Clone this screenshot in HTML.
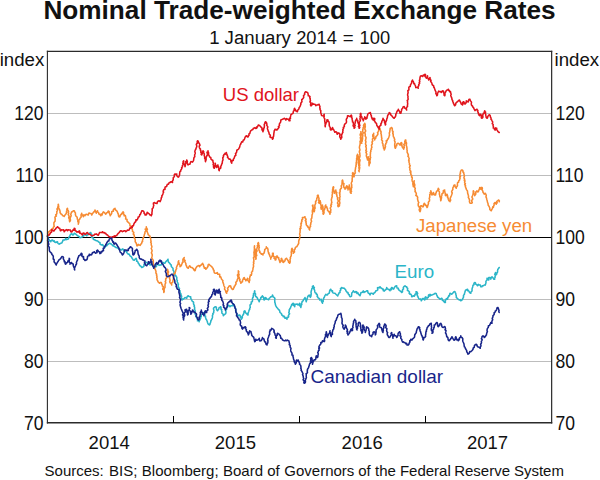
<!DOCTYPE html>
<html><head><meta charset="utf-8">
<style>
html,body{margin:0;padding:0;background:#fff;}
body{width:600px;height:480px;overflow:hidden;position:relative;font-family:"Liberation Sans",sans-serif;color:#111;}
svg{position:absolute;left:0;top:0;}
text{font-family:"Liberation Sans",sans-serif;fill:#111;}
</style></head><body>
<svg width="600" height="480" viewBox="0 0 600 480">
<rect width="600" height="480" fill="#fff"/>
<!-- gridlines -->
<g stroke="#bdbdbd" stroke-width="1" shape-rendering="crispEdges">
<line x1="47" x2="552" y1="113.5" y2="113.5"/>
<line x1="47" x2="552" y1="175.5" y2="175.5"/>
<line x1="47" x2="552" y1="299.5" y2="299.5"/>
<line x1="47" x2="552" y1="361.5" y2="361.5"/>
</g>
<line x1="47" x2="552" y1="237.5" y2="237.5" stroke="#000" stroke-width="1" shape-rendering="crispEdges"/>
<!-- series placeholder -->
<g id="series" fill="none" stroke-width="1.55" stroke-linejoin="round" stroke-linecap="round">
<path id="eur" stroke="#2bb5c8" d="M47.5 236.7 L47.9 237.4 L48.2 238.6 L49.2 239.7 L49.2 240.8 L49.8 240.6 L50.8 241.7 L51.4 240.2 L52.5 240.0 L53.4 241.4 L54.2 240.8 L55.0 242.3 L55.8 242.5 L56.5 242.0 L57.5 241.7 L57.7 243.0 L58.4 243.6 L59.2 244.2 L59.8 243.7 L60.8 243.3 L61.7 243.1 L62.5 241.7 L63.0 240.1 L64.2 240.0 L65.0 239.9 L65.8 238.3 L66.5 239.6 L67.5 239.2 L68.4 239.0 L68.9 237.5 L69.2 236.7 L70.1 236.0 L69.9 235.4 L70.8 234.2 L71.8 233.6 L72.5 235.0 L73.3 235.0 L74.2 233.3 L75.1 233.8 L75.8 234.2 L76.7 234.9 L77.5 235.8 L78.3 236.0 L79.2 236.7 L79.8 237.7 L80.8 237.5 L82.0 237.3 L82.5 235.8 L83.7 236.1 L84.2 234.2 L85.2 234.6 L85.8 235.0 L86.9 235.8 L87.5 234.2 L88.4 234.6 L89.2 233.3 L89.9 233.0 L90.8 232.5 L91.0 233.9 L91.9 234.4 L91.7 235.8 L91.6 237.4 L92.2 237.1 L93.2 238.1 L93.3 239.2 L94.0 239.5 L95.0 240.0 L96.1 240.7 L96.7 240.8 L97.7 241.0 L98.3 241.7 L99.2 242.4 L100.0 242.5 L100.1 244.3 L100.7 244.5 L101.7 245.0 L102.7 244.6 L103.3 245.8 L104.5 246.5 L105.0 247.5 L105.8 246.0 L106.7 245.8 L107.2 245.0 L108.3 244.2 L109.3 243.2 L110.0 243.3 L110.6 243.8 L111.7 244.2 L112.6 245.7 L113.3 245.8 L114.1 246.2 L115.0 246.7 L115.8 247.5 L116.7 247.5 L117.4 248.1 L118.3 248.3 L119.1 249.6 L120.0 249.2 L120.7 249.7 L121.7 250.0 L122.4 248.9 L123.3 249.2 L124.1 251.0 L125.0 250.8 L126.2 251.4 L126.7 252.5 L127.4 253.2 L128.3 254.2 L129.1 254.1 L130.0 255.8 L131.2 256.6 L131.7 257.5 L132.3 258.5 L132.9 259.4 L133.3 260.0 L134.3 260.3 L135.0 259.2 L136.1 258.2 L136.7 260.0 L136.6 261.3 L137.5 261.3 L138.1 262.5 L138.3 263.3 L139.0 263.8 L139.3 264.8 L140.0 265.8 L140.9 266.2 L141.7 267.5 L142.3 267.2 L143.3 266.7 L144.0 266.1 L143.9 264.6 L144.3 264.5 L145.0 263.3 L145.8 262.2 L146.7 262.5 L147.8 263.4 L148.3 264.2 L149.2 264.1 L150.0 265.0 L150.8 264.8 L151.7 263.3 L152.4 264.5 L152.4 264.8 L152.9 266.4 L153.3 266.7 L154.3 266.2 L155.0 267.5 L155.3 266.5 L156.4 266.6 L156.7 265.0 L157.4 263.7 L158.3 264.2 L159.1 265.4 L160.0 265.0 L160.8 265.1 L161.7 264.2 L162.3 262.5 L163.3 262.5 L164.3 263.3 L165.0 263.3 L165.5 262.1 L166.1 261.4 L166.7 260.8 L167.1 260.6 L168.0 259.2 L168.0 259.8 L168.4 261.9 L168.8 262.4 L169.7 263.3 L170.7 264.8 L171.3 265.0 L171.3 266.4 L172.0 267.2 L172.5 267.7 L173.1 268.6 L173.0 270.0 L173.6 270.9 L174.1 271.9 L173.8 273.1 L174.0 274.0 L174.7 274.2 L175.2 275.8 L175.5 275.2 L176.3 276.7 L176.8 277.3 L176.8 278.7 L176.6 279.6 L177.4 280.5 L177.1 281.3 L177.5 282.4 L178.0 283.3 L178.5 284.1 L178.1 285.4 L178.3 286.1 L178.5 287.6 L179.5 288.3 L179.2 289.2 L179.1 290.4 L180.0 290.7 L180.0 291.9 L180.3 293.0 L181.1 294.1 L180.8 295.0 L181.4 295.6 L181.7 296.6 L181.1 298.4 L181.8 298.7 L182.0 300.0 L182.5 299.1 L183.3 299.2 L184.3 298.2 L185.0 297.5 L185.9 297.9 L186.7 298.3 L187.1 296.8 L187.8 296.0 L188.3 295.8 L189.2 296.6 L190.0 296.7 L190.7 296.7 L190.7 298.2 L191.4 299.5 L191.7 300.0 L192.4 301.5 L193.3 301.7 L193.6 302.6 L193.5 303.6 L193.7 304.5 L194.4 305.4 L194.1 306.5 L194.6 307.1 L194.7 308.3 L194.4 309.3 L195.2 310.4 L194.9 311.4 L195.4 312.0 L195.1 312.9 L195.2 314.2 L195.8 315.0 L195.9 316.3 L196.3 317.2 L196.6 317.6 L197.3 318.3 L197.7 319.9 L197.5 320.8 L198.6 320.0 L199.2 321.7 L199.2 321.0 L200.2 319.3 L200.5 318.4 L200.8 318.0 L200.8 316.7 L201.3 316.5 L201.2 315.2 L202.1 314.5 L202.5 313.3 L203.2 312.9 L204.2 312.5 L204.0 313.8 L204.9 314.0 L204.7 315.6 L205.6 316.1 L205.4 317.2 L205.8 318.3 L206.2 319.4 L206.6 319.8 L206.9 320.6 L207.2 321.2 L207.5 322.5 L208.1 324.1 L208.9 324.4 L209.2 325.0 L209.9 324.6 L210.0 323.6 L210.5 322.6 L210.8 321.7 L210.8 321.0 L211.7 319.4 L211.8 319.1 L212.4 317.7 L212.5 316.7 L212.4 315.4 L213.0 314.5 L212.8 313.5 L213.7 312.8 L213.7 311.5 L214.0 310.6 L213.6 309.5 L213.5 308.3 L214.2 307.5 L214.9 306.9 L215.8 306.7 L216.4 307.3 L216.4 308.6 L216.6 309.5 L217.5 310.8 L218.0 310.0 L218.7 309.3 L218.8 308.8 L219.2 307.5 L220.1 307.3 L220.8 306.7 L221.1 307.9 L220.8 309.0 L221.8 309.6 L221.5 310.6 L222.0 311.7 L221.8 313.0 L222.9 314.0 L223.2 314.4 L223.3 315.8 L224.3 314.5 L225.0 314.2 L225.7 313.7 L226.0 312.1 L225.8 311.1 L225.7 310.3 L226.8 309.0 L226.7 308.3 L227.0 307.1 L227.7 306.8 L227.7 305.1 L228.3 305.0 L229.2 305.7 L230.0 306.7 L230.9 305.8 L231.7 305.8 L232.4 305.8 L233.3 304.2 L234.1 304.9 L234.0 305.6 L234.2 306.3 L235.0 307.5 L235.7 308.7 L235.7 309.8 L235.6 310.7 L235.9 311.2 L236.1 312.6 L236.7 313.3 L237.0 313.9 L237.6 315.9 L238.3 315.8 L238.8 315.1 L239.7 315.0 L240.3 316.0 L240.3 317.4 L241.2 318.1 L241.3 319.2 L241.8 318.6 L242.4 317.3 L241.9 316.7 L242.3 316.2 L243.0 315.0 L243.6 314.0 L243.7 313.5 L244.0 312.6 L244.0 311.3 L244.7 310.8 L245.0 311.0 L245.7 312.9 L246.3 313.3 L247.3 314.5 L248.0 315.0 L248.1 313.8 L248.0 313.3 L248.5 312.1 L248.8 311.3 L249.1 310.1 L249.7 309.4 L249.7 308.3 L250.3 307.3 L250.0 305.9 L250.1 304.8 L250.8 304.2 L251.4 303.8 L251.2 302.0 L252.1 301.7 L252.4 301.3 L252.5 300.0 L252.4 299.0 L252.7 297.8 L253.3 297.0 L253.2 295.7 L253.7 295.0 L253.4 294.0 L254.6 293.2 L254.3 292.2 L254.7 290.8 L254.8 291.8 L254.6 292.9 L255.5 293.8 L255.5 294.9 L255.4 295.8 L255.8 296.7 L256.4 296.7 L257.5 298.3 L257.9 299.4 L258.4 300.0 L258.7 300.4 L259.2 301.7 L259.6 300.1 L259.9 299.7 L260.9 298.8 L260.8 297.5 L261.4 297.2 L262.5 295.8 L262.7 297.0 L263.3 296.9 L264.0 297.8 L263.4 299.4 L264.2 300.0 L265.1 299.1 L264.9 298.5 L265.8 297.5 L266.6 299.1 L267.5 299.2 L268.5 299.8 L269.2 298.3 L269.9 297.9 L270.8 296.7 L272.0 296.8 L272.5 295.0 L273.1 296.4 L273.6 297.1 L274.2 297.5 L274.9 298.2 L274.8 299.1 L274.7 300.2 L274.8 301.4 L274.8 302.3 L275.2 303.1 L275.3 304.2 L275.7 305.3 L275.6 305.6 L276.5 306.9 L276.7 307.5 L277.5 308.1 L278.3 309.2 L279.0 310.0 L279.4 310.0 L279.9 311.9 L280.0 312.5 L280.8 313.1 L281.4 313.4 L281.7 315.0 L282.8 315.4 L283.3 316.7 L284.4 316.2 L285.0 318.3 L286.0 318.1 L287.0 319.2 L287.1 317.3 L288.0 317.4 L288.7 316.7 L288.3 315.8 L288.8 314.8 L289.6 313.8 L288.8 312.8 L289.0 312.0 L289.3 311.1 L289.1 309.9 L289.7 309.2 L289.9 308.6 L290.5 307.9 L290.7 307.1 L291.3 305.8 L291.7 304.4 L292.6 304.8 L293.0 303.3 L293.8 303.7 L293.4 305.5 L294.8 305.7 L294.7 306.7 L294.9 304.8 L295.3 304.2 L296.3 304.2 L297.1 303.9 L298.0 305.0 L298.6 304.7 L299.7 303.3 L300.0 304.7 L299.8 305.8 L301.0 306.7 L300.8 307.5 L301.1 306.4 L300.8 305.8 L301.8 304.5 L301.5 303.4 L302.0 302.6 L302.0 301.7 L302.3 301.4 L303.3 300.6 L303.7 299.2 L304.4 299.0 L305.0 297.5 L305.5 298.9 L305.9 299.4 L306.0 300.9 L306.3 301.7 L306.3 300.3 L307.0 299.8 L307.1 298.7 L307.5 297.5 L307.8 296.4 L308.2 295.9 L309.2 295.0 L309.3 295.9 L310.3 296.7 L310.3 297.5 L310.8 296.5 L311.1 295.8 L310.8 294.9 L311.3 294.0 L311.0 292.7 L311.2 291.6 L311.1 291.1 L311.7 290.0 L311.7 288.9 L312.7 287.5 L312.4 286.4 L313.3 285.8 L313.4 286.5 L314.4 287.7 L313.6 288.7 L314.4 289.6 L314.7 290.8 L314.8 291.7 L315.2 292.8 L316.2 293.3 L316.3 294.2 L317.1 294.3 L317.5 296.1 L317.1 296.2 L318.0 297.5 L318.2 298.0 L319.2 298.4 L319.7 300.0 L320.7 299.4 L321.3 299.2 L321.5 300.4 L321.5 301.6 L322.1 302.2 L322.5 303.3 L322.4 302.2 L323.2 301.7 L323.0 300.6 L323.6 299.5 L323.5 298.5 L324.2 297.5 L324.6 296.5 L325.1 295.3 L325.3 295.3 L325.8 294.2 L326.6 295.0 L327.5 295.0 L328.2 293.5 L329.2 293.3 L329.4 292.8 L329.6 291.0 L330.1 289.8 L330.8 289.2 L331.5 291.0 L332.5 290.8 L332.6 292.6 L333.2 292.9 L334.2 293.3 L335.0 293.3 L335.9 294.2 L336.7 295.0 L337.7 295.9 L338.3 294.2 L338.7 294.0 L339.1 292.8 L340.0 292.6 L340.0 290.8 L340.8 289.9 L340.5 288.5 L341.1 288.5 L341.7 287.5 L342.4 288.1 L343.3 288.3 L344.0 288.1 L345.0 289.2 L345.6 289.6 L345.9 290.7 L346.7 291.7 L347.4 292.8 L348.0 292.6 L348.3 294.2 L349.3 294.6 L349.2 295.4 L350.0 296.7 L351.0 296.5 L351.5 296.1 L351.7 294.2 L351.8 293.0 L352.5 292.2 L352.9 291.7 L353.3 290.8 L353.9 291.6 L355.0 292.5 L355.8 291.6 L356.7 291.7 L356.9 293.4 L358.0 292.9 L358.3 294.2 L359.5 295.2 L360.0 295.8 L360.5 294.5 L360.5 294.0 L361.0 292.5 L361.7 292.5 L362.5 292.2 L363.3 290.8 L364.0 292.5 L365.0 291.7 L365.6 291.8 L366.7 290.8 L367.7 290.8 L367.9 292.3 L368.3 293.3 L369.1 293.3 L370.0 295.0 L370.7 293.2 L371.7 293.3 L372.3 293.5 L373.3 294.2 L374.0 293.0 L375.0 292.5 L375.8 290.7 L376.7 290.8 L377.3 290.2 L377.8 289.9 L377.5 287.8 L378.3 287.5 L379.3 287.9 L380.0 286.7 L380.6 287.8 L381.7 288.3 L382.4 289.1 L383.2 289.1 L383.3 290.8 L384.3 291.1 L385.0 290.0 L385.5 289.9 L386.5 288.9 L386.7 287.5 L387.4 289.1 L388.3 289.2 L389.1 289.8 L390.0 290.8 L390.1 289.3 L391.3 289.7 L391.2 288.3 L391.7 287.5 L392.5 288.0 L393.3 289.2 L393.8 288.9 L394.1 288.1 L395.0 286.7 L395.9 285.9 L396.7 285.8 L396.8 286.7 L397.1 288.1 L398.4 288.3 L398.3 289.2 L399.1 290.2 L400.0 290.8 L401.0 291.5 L401.7 292.5 L402.5 291.8 L402.5 290.2 L402.7 289.4 L403.5 289.0 L403.3 287.5 L403.9 286.7 L405.0 285.8 L406.0 286.8 L406.7 286.7 L406.8 287.7 L407.7 288.4 L407.4 290.5 L408.3 290.8 L408.8 291.3 L409.5 292.0 L409.1 293.2 L410.0 294.2 L410.8 294.1 L411.5 295.1 L411.7 296.7 L412.6 296.5 L413.3 295.8 L414.2 296.2 L415.0 295.0 L414.9 294.4 L416.3 293.3 L416.0 291.8 L416.7 291.7 L417.2 292.6 L417.7 293.6 L417.0 294.6 L417.3 295.5 L418.0 296.7 L418.1 297.3 L419.0 298.8 L419.7 299.2 L420.8 298.9 L421.3 300.8 L421.6 300.2 L422.7 298.8 L423.0 298.3 L424.2 299.5 L424.7 300.0 L425.1 299.4 L425.0 297.5 L425.8 296.7 L425.7 297.6 L427.0 297.9 L427.0 299.2 L427.1 297.7 L428.3 297.5 L428.3 296.7 L428.6 294.9 L429.9 296.1 L430.0 294.2 L431.0 295.3 L431.7 295.0 L432.7 294.8 L433.3 294.2 L434.3 293.9 L435.0 293.3 L436.2 293.4 L436.7 295.0 L437.0 295.7 L437.7 297.2 L438.3 297.5 L439.1 298.3 L440.0 299.2 L440.9 298.7 L441.7 298.3 L442.5 299.5 L442.4 300.4 L443.3 300.8 L444.3 302.1 L444.7 302.5 L445.4 302.4 L445.2 300.3 L445.8 300.0 L446.4 298.6 L447.5 299.2 L447.7 298.8 L447.7 297.8 L448.8 296.3 L448.7 295.8 L449.6 295.7 L449.6 294.4 L450.0 293.3 L451.1 293.9 L451.7 294.2 L452.5 293.4 L453.3 292.5 L454.2 291.5 L455.0 291.7 L455.3 292.6 L455.8 293.6 L455.9 294.7 L456.3 295.8 L456.3 297.5 L456.8 298.1 L457.5 298.3 L458.0 299.1 L459.2 300.0 L460.2 299.6 L460.8 300.8 L461.8 300.2 L462.5 299.2 L463.0 298.1 L463.6 297.0 L463.4 296.0 L463.7 295.0 L464.4 294.4 L464.4 293.9 L464.8 292.5 L465.0 291.7 L465.6 290.0 L466.3 290.0 L467.5 289.2 L467.8 290.8 L468.3 290.3 L469.2 291.7 L469.6 292.6 L470.8 293.3 L470.8 292.1 L471.8 291.4 L472.1 290.3 L472.0 289.2 L472.2 288.3 L472.7 286.9 L472.8 285.9 L473.3 285.0 L474.1 284.6 L473.9 283.3 L474.7 282.5 L475.4 282.8 L475.8 284.2 L476.9 284.9 L477.5 285.8 L478.3 284.4 L479.2 285.0 L480.4 285.1 L480.8 286.7 L481.9 286.7 L482.5 285.8 L483.5 285.7 L484.2 285.0 L485.3 285.1 L485.8 283.3 L486.0 282.6 L485.9 281.3 L486.4 280.6 L487.2 279.4 L487.0 278.3 L487.9 278.5 L488.3 280.0 L488.9 279.7 L488.8 277.4 L489.7 277.5 L490.7 277.8 L490.8 279.2 L490.9 278.7 L491.5 277.2 L492.0 276.7 L492.7 277.5 L493.3 278.3 L493.9 279.2 L494.7 279.2 L494.4 278.2 L495.1 277.5 L495.0 276.2 L495.7 275.5 L494.7 274.2 L495.3 273.4 L495.5 272.5 L495.8 274.3 L496.7 274.2 L496.9 272.9 L497.6 272.1 L497.5 270.8 L497.8 269.5 L498.4 268.6 L498.7 268.3 L499.2 267.5"/>
<path id="jpy" stroke="#f68b33" d="M47.5 235.8 L48.3 235.3 L47.7 233.2 L48.6 233.1 L48.7 231.7 L49.2 231.4 L50.0 230.8 L50.9 230.3 L51.7 229.2 L52.3 228.6 L53.3 228.3 L53.4 227.2 L54.3 226.5 L54.0 225.5 L53.9 224.1 L53.9 222.7 L54.4 222.0 L55.2 221.0 L55.0 220.0 L55.3 219.0 L54.9 217.7 L55.2 216.7 L56.4 216.0 L55.7 214.9 L56.6 214.1 L56.9 213.0 L56.7 211.7 L57.2 211.0 L57.6 209.8 L56.9 209.1 L57.7 208.2 L57.7 207.0 L58.4 206.2 L58.5 205.2 L58.3 204.2 L58.1 205.2 L58.7 206.4 L58.4 207.3 L59.0 208.3 L59.2 209.2 L59.7 210.0 L60.1 211.5 L60.0 212.5 L61.0 214.0 L61.7 214.2 L62.6 215.7 L63.3 215.8 L64.2 216.5 L65.0 215.0 L65.7 214.2 L66.3 213.3 L66.6 212.4 L66.5 211.1 L67.5 210.4 L66.8 209.3 L67.5 208.3 L67.5 209.6 L68.2 210.6 L68.6 211.5 L68.3 212.5 L68.7 213.6 L68.2 214.5 L68.7 215.4 L69.2 216.7 L68.7 217.5 L69.0 218.6 L69.5 219.4 L69.4 220.5 L69.7 221.7 L70.4 220.5 L70.4 219.4 L70.1 218.3 L70.2 217.8 L70.8 216.7 L71.2 215.6 L70.7 214.5 L71.0 213.9 L71.4 212.4 L71.7 211.7 L72.6 211.7 L73.3 210.8 L74.3 210.7 L75.0 212.5 L75.4 212.8 L75.4 214.6 L75.8 215.6 L76.2 216.4 L76.7 216.7 L77.2 217.6 L77.3 218.6 L77.4 219.2 L77.9 220.6 L77.8 221.4 L78.3 222.3 L78.4 223.5 L78.3 224.2 L78.5 223.3 L78.9 221.8 L78.7 220.8 L79.1 219.8 L79.9 219.0 L80.0 218.3 L80.8 217.5 L81.2 216.9 L81.0 215.0 L81.5 214.1 L81.7 213.3 L81.8 214.5 L82.7 215.2 L82.9 215.8 L83.3 216.7 L83.9 214.8 L85.0 215.8 L85.6 214.5 L86.7 214.2 L87.6 214.8 L88.3 215.0 L88.9 213.1 L90.0 213.3 L91.1 213.4 L91.7 215.0 L92.2 214.2 L92.9 213.1 L93.3 212.5 L94.2 211.4 L94.6 211.8 L95.0 210.0 L95.3 210.8 L96.1 211.6 L95.9 212.4 L96.3 213.3 L96.3 211.8 L97.0 212.0 L97.5 210.8 L97.5 211.9 L98.6 212.6 L98.9 214.0 L99.2 214.2 L99.9 214.2 L100.8 215.8 L101.2 214.1 L102.1 214.9 L102.5 213.3 L103.3 211.9 L104.2 212.5 L105.0 213.2 L105.8 214.2 L106.7 212.8 L107.5 212.5 L108.2 211.0 L109.2 211.7 L109.0 212.7 L109.5 213.5 L109.9 214.5 L110.3 215.8 L110.7 214.8 L111.1 214.5 L111.7 213.3 L111.7 211.8 L112.8 211.2 L113.4 211.2 L113.3 210.0 L113.8 209.2 L115.0 208.3 L115.3 209.6 L116.1 210.4 L116.7 210.8 L117.1 211.4 L117.7 212.8 L117.9 213.4 L118.3 214.2 L118.6 216.0 L119.1 216.9 L120.0 216.7 L120.2 215.4 L120.6 214.9 L121.5 214.1 L121.7 213.3 L122.4 213.4 L123.0 211.7 L123.7 212.9 L123.1 213.8 L124.0 214.4 L124.2 215.8 L125.3 215.5 L125.8 217.5 L125.6 219.0 L126.9 219.2 L127.1 219.7 L127.0 221.1 L127.5 221.7 L128.3 222.4 L129.2 223.3 L129.7 223.5 L130.0 225.9 L130.8 225.8 L131.1 226.2 L131.7 227.6 L131.9 228.8 L132.3 229.4 L132.5 230.0 L132.5 231.5 L133.4 231.9 L133.8 232.7 L133.2 234.1 L133.9 234.5 L134.2 235.8 L134.5 236.7 L134.2 238.0 L134.9 238.8 L135.3 239.9 L135.2 240.8 L135.2 241.8 L135.8 242.5 L136.1 243.0 L136.5 244.1 L136.9 245.7 L137.5 245.8 L138.3 244.4 L139.2 245.0 L140.2 245.4 L140.8 244.2 L141.5 243.7 L141.9 242.1 L141.9 242.0 L142.6 241.5 L142.5 240.0 L143.2 238.7 L142.9 238.2 L143.6 237.3 L144.2 235.8 L144.2 235.0 L144.7 233.7 L145.0 233.3 L144.9 232.3 L145.3 231.4 L146.1 230.4 L145.2 229.2 L146.3 228.6 L146.4 227.8 L146.3 226.7 L146.3 227.7 L147.0 228.5 L147.4 229.5 L146.8 230.4 L147.0 231.4 L147.5 232.5 L148.0 233.7 L148.1 234.6 L149.1 235.3 L149.2 235.8 L149.9 236.0 L150.3 237.5 L150.7 238.4 L150.6 239.2 L150.9 240.6 L151.1 241.4 L150.7 242.4 L151.3 243.3 L151.2 244.3 L151.4 245.4 L151.9 246.4 L151.7 247.5 L151.2 248.5 L151.7 249.5 L152.1 250.5 L151.9 251.6 L151.4 252.6 L151.7 253.7 L152.2 254.6 L152.2 255.6 L152.0 256.7 L151.7 257.6 L152.0 258.4 L152.7 259.4 L153.2 260.3 L153.3 261.3 L153.3 262.3 L153.3 263.3 L153.1 264.8 L153.7 265.3 L154.3 266.6 L154.7 266.8 L154.5 268.0 L155.0 269.2 L155.5 270.0 L156.0 271.4 L155.9 272.6 L156.0 273.2 L156.7 274.2 L156.5 275.1 L157.0 276.3 L156.7 277.2 L157.1 278.1 L157.0 279.2 L157.2 280.1 L157.7 280.7 L158.0 281.7 L158.9 282.7 L159.7 283.3 L160.3 282.4 L161.3 282.5 L161.8 283.9 L161.7 284.3 L162.5 285.0 L162.2 285.9 L163.3 286.6 L163.1 287.7 L162.7 289.1 L163.4 289.8 L163.8 290.6 L163.8 291.7 L163.8 292.5 L164.2 291.4 L164.1 290.2 L164.1 289.7 L164.4 288.2 L165.0 287.5 L165.0 286.5 L165.0 285.5 L165.0 284.6 L165.2 283.8 L165.8 282.8 L165.2 281.7 L165.6 281.0 L165.8 280.0 L165.6 279.1 L166.5 278.1 L166.6 277.0 L166.4 276.0 L166.7 275.0 L166.7 274.2 L167.1 273.1 L167.5 272.1 L167.3 271.2 L167.9 270.3 L167.5 269.2 L167.3 270.6 L168.0 271.1 L168.6 272.0 L167.8 272.9 L168.0 273.9 L168.7 275.0 L168.4 276.1 L169.2 276.6 L169.7 277.9 L169.5 278.5 L169.9 279.4 L170.1 280.6 L169.7 281.8 L170.0 282.5 L170.2 282.8 L171.2 283.7 L171.7 285.0 L171.6 283.9 L171.8 282.9 L172.9 281.9 L172.8 281.3 L173.0 280.0 L173.6 279.2 L173.3 277.9 L173.1 276.8 L173.4 275.9 L173.5 274.9 L174.2 274.2 L174.2 273.3 L175.1 273.3 L175.3 272.0 L175.8 270.8 L175.7 270.1 L176.7 268.6 L176.3 267.9 L176.7 266.8 L177.1 265.9 L177.5 265.0 L178.1 264.0 L178.2 263.2 L178.2 261.8 L178.7 260.8 L178.4 262.1 L178.9 262.6 L179.2 263.9 L179.5 264.4 L180.1 265.4 L180.0 266.7 L180.7 266.1 L181.4 265.4 L181.7 264.2 L182.0 263.6 L182.6 262.1 L183.0 262.2 L183.0 260.8 L182.8 259.9 L183.2 258.7 L183.9 258.5 L184.2 257.5 L183.9 258.4 L184.2 259.9 L185.1 260.4 L184.7 261.4 L185.3 262.5 L185.9 263.7 L185.9 265.0 L186.4 265.5 L186.7 266.7 L187.5 267.9 L188.3 268.3 L188.4 267.5 L189.0 266.8 L189.7 265.8 L190.7 267.3 L191.3 267.5 L192.1 267.6 L193.0 268.3 L193.5 269.0 L194.4 270.5 L194.7 270.8 L195.3 270.4 L195.4 269.5 L195.7 268.2 L196.3 267.5 L197.0 266.4 L198.0 265.8 L198.9 265.6 L199.7 266.7 L200.5 265.2 L201.3 265.0 L201.8 264.2 L202.7 263.3 L202.9 263.8 L203.6 265.3 L203.5 266.0 L204.0 266.7 L204.4 268.3 L205.4 267.8 L205.7 269.2 L206.3 268.9 L207.3 267.5 L208.1 266.1 L208.0 265.3 L208.3 264.6 L209.0 264.2 L210.0 265.3 L210.7 265.8 L211.6 266.5 L212.3 267.5 L213.1 268.5 L213.4 269.1 L213.2 269.6 L214.1 270.5 L214.0 271.7 L214.5 273.0 L215.7 273.3 L216.5 273.2 L217.3 272.5 L217.8 274.3 L219.0 274.2 L219.7 274.3 L219.7 277.0 L220.7 276.7 L220.9 277.2 L221.4 278.9 L221.9 279.5 L222.3 280.0 L222.9 280.6 L222.7 281.6 L223.0 282.6 L223.5 283.7 L223.8 285.2 L224.0 285.8 L224.4 286.7 L224.9 287.4 L224.5 288.9 L224.7 289.5 L225.9 290.7 L225.7 291.7 L226.3 292.8 L226.7 293.3 L226.5 292.2 L227.3 291.4 L227.6 290.7 L228.0 289.7 L227.5 288.1 L228.3 287.5 L228.9 286.3 L230.0 285.8 L230.7 285.9 L231.0 287.6 L231.7 288.3 L232.3 289.5 L233.3 289.2 L233.8 287.8 L234.3 287.0 L234.2 286.4 L235.0 285.8 L235.5 284.6 L236.1 283.9 L235.8 282.5 L236.3 281.7 L236.8 281.5 L237.4 279.6 L237.5 279.2 L238.1 278.2 L238.0 277.2 L237.8 276.2 L237.4 275.1 L238.4 273.9 L238.3 272.8 L238.4 272.0 L238.3 270.8 L238.9 271.8 L238.4 272.7 L238.7 273.6 L239.1 274.6 L238.8 275.3 L238.6 276.6 L239.3 277.4 L239.2 278.3 L240.0 279.5 L239.5 280.1 L240.3 281.7 L240.9 282.6 L240.8 283.3 L241.3 282.3 L242.5 281.7 L242.5 280.4 L243.1 279.4 L243.3 279.1 L243.4 278.3 L244.2 277.5 L244.6 278.4 L244.6 279.2 L245.5 279.4 L245.8 280.8 L246.3 279.8 L247.0 280.0 L247.5 278.3 L247.9 279.1 L247.7 280.1 L248.4 281.2 L248.8 281.3 L249.2 282.5 L249.2 281.4 L249.7 280.4 L249.8 279.9 L249.5 278.7 L249.8 277.8 L249.8 276.8 L250.4 275.8 L250.3 275.0 L251.3 275.3 L251.7 273.3 L251.5 272.3 L252.6 271.2 L252.5 270.7 L252.9 269.4 L253.0 268.3 L253.3 267.2 L253.6 266.2 L253.4 265.2 L253.4 264.2 L253.9 263.1 L253.4 262.1 L254.0 261.1 L253.7 260.0 L253.9 259.0 L253.4 258.0 L254.0 257.0 L254.4 256.0 L253.9 255.0 L254.3 254.0 L253.9 252.9 L254.0 251.9 L254.4 250.8 L254.2 249.9 L254.9 248.9 L254.3 247.9 L254.5 246.9 L254.5 245.8 L254.4 246.8 L254.3 248.0 L254.6 249.0 L255.4 249.8 L255.4 250.9 L255.3 252.1 L254.9 253.1 L254.9 254.0 L255.9 255.0 L255.6 256.1 L255.7 257.3 L256.2 258.0 L255.8 259.2 L255.9 258.0 L255.5 257.2 L256.1 256.2 L256.8 255.4 L256.5 254.4 L256.2 253.2 L256.2 252.3 L257.0 251.2 L257.0 250.3 L256.6 249.3 L257.0 248.3 L257.3 247.4 L257.8 246.3 L257.3 245.7 L258.2 244.3 L257.8 243.6 L258.3 242.5 L258.7 243.5 L258.5 244.7 L259.1 245.5 L258.9 246.5 L259.3 247.4 L258.9 248.4 L258.9 249.7 L259.1 250.6 L259.9 251.3 L259.7 252.5 L260.9 253.4 L261.3 254.2 L262.0 254.0 L263.0 255.0 L263.0 253.7 L264.0 253.3 L264.4 252.0 L264.4 251.4 L264.7 250.8 L264.7 249.6 L265.2 249.2 L266.3 248.2 L266.3 246.7 L266.3 247.9 L267.5 248.1 L268.0 249.6 L268.0 250.8 L268.3 252.1 L268.9 253.0 L268.6 253.5 L269.4 254.5 L269.7 255.8 L269.9 256.3 L270.6 257.4 L270.7 257.8 L270.8 259.2 L270.7 258.4 L271.5 257.0 L272.0 256.5 L272.3 255.5 L272.7 254.1 L272.5 253.3 L273.3 253.3 L273.1 254.6 L273.4 256.1 L274.2 256.7 L274.1 258.4 L275.1 259.0 L275.3 260.0 L275.9 259.8 L276.0 258.0 L275.8 256.7 L276.9 256.9 L277.0 255.8 L277.7 257.6 L278.7 257.5 L278.7 258.3 L279.0 259.9 L279.7 260.4 L279.6 261.2 L280.0 262.5 L279.9 262.1 L281.1 261.4 L281.4 259.9 L281.2 258.6 L281.7 258.3 L281.7 259.6 L282.9 260.3 L282.8 262.0 L283.3 262.5 L283.9 262.0 L285.0 260.8 L285.2 259.4 L286.1 258.5 L286.7 258.3 L287.1 259.1 L287.9 260.4 L288.3 260.8 L288.6 262.4 L289.5 262.1 L289.7 263.3 L290.0 262.6 L290.2 261.2 L290.1 260.4 L290.0 259.6 L290.5 258.5 L290.2 257.8 L290.8 256.7 L291.2 255.8 L291.3 254.5 L291.5 253.6 L291.2 252.5 L291.3 251.4 L291.6 250.4 L291.6 249.1 L292.0 248.3 L292.4 249.1 L292.3 250.4 L292.7 251.1 L293.3 252.1 L293.3 253.3 L294.2 252.0 L294.5 251.9 L294.2 249.7 L295.0 249.2 L295.4 247.5 L295.7 247.1 L296.7 246.7 L297.4 245.8 L297.5 245.4 L298.3 244.2 L298.8 242.9 L298.6 242.1 L298.8 240.9 L299.0 240.0 L299.5 239.1 L299.7 238.3 L299.6 237.3 L299.8 236.2 L300.2 235.3 L299.6 234.2 L299.8 233.2 L300.2 232.1 L300.0 231.0 L300.3 230.0 L299.9 228.7 L301.0 228.2 L300.3 226.9 L300.9 226.2 L301.2 225.0 L300.8 223.8 L301.5 223.2 L301.3 222.2 L302.0 221.3 L301.7 220.0 L302.6 219.4 L302.4 217.5 L303.3 217.5 L304.0 217.4 L305.0 216.7 L304.9 217.7 L305.7 218.6 L306.1 219.6 L305.3 220.6 L306.1 221.4 L305.9 222.7 L306.3 223.3 L306.2 224.7 L306.9 225.5 L307.3 226.2 L307.9 226.3 L308.0 227.5 L309.0 227.6 L309.2 229.3 L309.7 230.0 L309.4 229.2 L309.7 228.2 L310.0 227.0 L310.6 226.4 L310.3 225.1 L310.8 224.2 L310.8 223.0 L311.0 222.3 L311.6 221.3 L311.1 219.9 L311.2 219.0 L311.8 218.0 L311.9 216.9 L312.0 216.0 L312.0 215.0 L312.4 213.9 L312.6 213.0 L312.4 212.2 L312.3 210.8 L312.7 210.2 L312.6 209.1 L313.1 208.2 L312.9 207.0 L312.4 205.8 L313.0 205.0 L312.9 205.8 L313.1 207.2 L314.0 208.0 L314.0 208.5 L313.8 209.5 L313.6 211.1 L314.2 211.7 L314.5 210.6 L314.6 209.9 L314.3 208.8 L315.2 208.2 L314.9 207.1 L314.8 205.8 L314.9 205.0 L315.3 204.2 L315.8 203.0 L315.5 202.3 L315.6 201.4 L316.5 200.6 L316.7 199.2 L316.8 198.2 L317.7 197.4 L317.3 195.7 L318.0 195.0 L318.4 196.1 L318.3 196.9 L318.8 197.9 L319.1 199.0 L318.7 200.3 L319.1 201.3 L318.5 202.5 L319.2 203.3 L319.1 202.9 L319.5 201.2 L320.3 200.8 L320.3 201.9 L320.7 202.9 L320.5 204.1 L320.9 205.2 L321.4 206.1 L320.9 207.1 L321.0 208.1 L321.3 209.2 L321.6 207.8 L321.9 207.2 L321.9 205.6 L322.5 205.0 L322.4 206.0 L323.0 207.0 L323.0 208.0 L322.8 209.0 L323.1 210.1 L322.6 211.0 L323.5 212.0 L322.9 213.1 L323.3 214.2 L323.8 213.6 L324.1 212.1 L323.6 210.8 L324.3 210.0 L324.6 209.4 L324.7 208.3 L325.3 207.7 L325.1 206.2 L325.8 205.0 L325.7 206.5 L326.9 206.9 L326.8 207.8 L327.4 208.3 L327.5 209.2 L327.6 210.6 L328.5 211.1 L329.2 211.8 L329.2 212.5 L330.1 213.4 L330.0 214.2 L329.7 213.0 L330.8 212.3 L330.5 211.2 L330.8 210.3 L330.9 209.5 L330.2 208.1 L330.6 207.4 L331.3 206.4 L330.7 205.1 L331.6 204.3 L331.3 203.3 L331.9 202.4 L331.6 201.2 L331.4 200.3 L331.4 199.2 L331.7 198.3 L332.0 197.2 L332.3 196.1 L332.0 195.1 L332.3 194.2 L332.6 193.2 L332.2 192.1 L332.8 191.1 L332.5 190.0 L332.9 188.6 L332.9 187.8 L333.3 186.7 L333.7 187.3 L333.3 188.8 L333.6 189.9 L333.7 190.8 L334.1 191.2 L334.2 192.7 L334.7 193.3 L335.3 192.0 L335.4 191.0 L335.8 190.0 L335.9 191.2 L336.1 191.8 L336.8 192.6 L336.3 194.3 L337.0 195.0 L336.8 195.9 L337.2 196.8 L337.8 197.8 L337.4 198.9 L338.0 200.0 L338.2 200.7 L338.0 201.7 L337.4 203.0 L338.0 203.7 L338.1 204.8 L337.7 205.9 L338.3 206.7 L339.5 205.8 L339.4 204.8 L339.7 203.8 L339.9 202.9 L339.6 201.8 L339.3 200.9 L339.8 199.8 L339.8 198.9 L339.4 197.9 L340.1 196.9 L339.9 195.9 L339.7 194.9 L340.0 194.0 L339.4 193.0 L340.0 192.0 L340.2 191.0 L340.0 190.0 L340.9 188.5 L341.3 188.3 L341.6 187.1 L341.1 186.0 L341.7 185.3 L342.1 184.2 L342.0 183.1 L342.2 182.0 L342.1 180.9 L342.5 180.0 L342.9 181.2 L342.8 182.2 L342.9 183.0 L344.0 183.7 L343.7 185.0 L343.8 186.5 L343.9 187.5 L344.8 188.0 L345.0 189.2 L345.8 188.7 L346.1 187.3 L346.0 187.2 L346.7 185.8 L347.4 186.3 L347.6 187.9 L348.1 189.2 L348.0 190.0 L348.1 189.3 L348.3 188.3 L348.9 186.8 L349.4 186.0 L349.2 185.0 L349.6 186.1 L349.5 186.9 L349.9 188.0 L349.8 188.9 L349.9 189.8 L350.3 190.7 L350.3 191.7 L350.3 192.6 L351.2 193.3 L350.8 192.3 L351.6 191.3 L350.9 190.2 L351.4 189.2 L351.3 188.2 L351.9 187.3 L351.6 186.0 L351.8 185.1 L351.4 184.1 L351.3 183.1 L351.6 182.1 L352.3 181.0 L352.0 180.0 L352.3 179.3 L352.1 178.2 L352.6 177.1 L352.2 176.3 L352.4 175.2 L353.1 174.3 L352.4 173.2 L353.0 172.5 L353.0 173.4 L353.3 174.7 L353.5 175.9 L354.2 176.7 L353.8 175.7 L354.4 174.6 L354.5 173.6 L355.4 172.8 L355.2 172.2 L355.0 170.9 L355.3 170.0 L355.4 168.8 L355.6 167.8 L355.6 167.1 L356.2 166.1 L355.9 165.2 L356.6 163.9 L356.0 163.0 L356.8 162.1 L356.4 161.2 L356.7 160.0 L356.6 158.9 L356.7 157.9 L357.2 157.3 L356.8 155.9 L357.9 155.1 L357.5 154.2 L357.3 155.1 L358.1 156.0 L358.4 157.2 L358.0 158.1 L357.9 159.0 L358.3 160.0 L358.7 161.0 L358.5 161.9 L358.4 162.9 L358.8 164.0 L358.7 165.0 L358.8 165.7 L359.2 166.8 L358.8 167.9 L359.2 168.8 L359.3 169.6 L358.9 170.8 L359.2 171.7 L358.7 170.7 L359.5 169.8 L359.3 168.8 L359.8 167.8 L359.3 166.8 L359.7 165.8 L359.7 164.8 L359.5 163.8 L359.6 162.8 L359.5 161.8 L360.0 160.9 L360.0 159.8 L359.0 158.8 L359.4 157.9 L359.8 156.9 L360.1 155.9 L359.8 154.9 L359.9 153.9 L359.7 152.9 L359.3 151.9 L359.5 150.9 L360.0 149.9 L359.7 148.9 L359.4 147.9 L359.5 146.9 L359.6 146.0 L360.0 145.0 L360.0 143.9 L360.5 143.0 L359.9 141.9 L360.3 140.8 L360.6 139.9 L360.6 138.8 L360.2 137.8 L360.8 136.8 L360.6 135.8 L360.1 134.8 L360.5 133.7 L361.1 132.7 L360.8 131.7 L361.0 132.6 L361.3 133.6 L361.6 134.5 L361.0 135.6 L360.7 136.7 L360.7 137.5 L361.7 138.3 L361.2 139.5 L362.0 140.4 L361.6 141.3 L361.3 142.3 L361.7 143.3 L361.4 142.4 L362.1 141.4 L362.2 140.6 L362.4 139.7 L362.6 138.6 L362.5 137.7 L362.5 136.7 L362.9 135.8 L362.7 134.8 L362.7 133.9 L363.4 132.9 L362.6 131.8 L362.8 131.0 L362.7 129.7 L363.2 128.9 L363.0 128.0 L363.8 126.9 L363.5 125.8 L363.7 125.0 L364.5 123.7 L364.7 123.3 L365.2 124.3 L365.1 125.3 L365.3 126.4 L365.2 127.3 L364.8 128.4 L365.0 129.5 L365.6 130.5 L365.5 131.6 L364.7 132.6 L365.1 133.6 L365.3 134.6 L365.2 135.7 L365.5 136.7 L366.1 137.7 L365.9 138.7 L365.7 139.6 L365.4 140.6 L365.9 141.5 L365.8 142.6 L365.5 143.5 L365.7 144.6 L366.3 145.5 L365.7 146.5 L366.1 147.4 L366.3 148.4 L366.3 149.4 L365.8 150.5 L366.7 151.3 L365.9 152.3 L366.3 153.3 L366.9 154.1 L366.3 155.0 L366.4 156.1 L366.8 157.1 L367.0 158.0 L367.6 158.8 L367.5 160.0 L367.3 158.5 L368.6 158.0 L368.3 156.7 L368.0 157.6 L368.9 158.6 L368.8 159.6 L368.7 160.6 L369.2 161.7 L368.8 162.9 L369.3 163.8 L368.9 164.9 L369.2 165.8 L369.0 164.9 L369.4 164.1 L370.1 162.9 L370.2 162.0 L369.4 160.9 L370.1 160.2 L370.3 159.3 L370.3 158.3 L370.7 157.3 L370.1 156.3 L370.4 155.3 L370.3 154.3 L370.5 153.2 L370.4 152.3 L370.9 151.3 L370.7 150.4 L371.5 149.3 L371.3 148.3 L371.9 147.3 L371.6 146.1 L371.5 145.1 L372.2 144.0 L372.4 143.2 L371.9 142.0 L372.8 141.2 L372.5 140.0 L372.4 139.0 L373.2 138.2 L373.2 137.3 L372.7 136.2 L372.8 134.9 L373.5 134.2 L373.7 133.3 L373.5 134.1 L373.7 135.3 L373.8 136.4 L374.1 137.3 L374.1 138.1 L374.8 139.1 L374.7 140.0 L374.7 139.1 L375.9 138.0 L375.8 136.7 L377.0 135.6 L377.5 135.0 L378.0 134.0 L377.5 132.6 L378.3 131.8 L378.5 131.3 L378.7 130.0 L379.2 129.1 L380.0 128.3 L380.0 129.3 L380.5 130.4 L380.7 131.2 L381.2 131.9 L380.8 133.1 L381.2 134.0 L381.3 135.0 L381.5 136.2 L381.5 137.2 L381.9 138.3 L381.6 139.2 L381.7 140.1 L382.6 141.1 L382.3 142.3 L382.5 143.3 L383.0 144.0 L383.0 145.6 L383.3 146.3 L383.7 147.1 L383.4 147.9 L384.2 149.1 L384.2 150.0 L384.7 149.1 L385.0 148.3 L385.3 147.1 L385.5 146.6 L385.1 145.2 L385.7 144.3 L385.8 143.3 L386.6 142.7 L386.2 140.8 L387.1 140.8 L387.5 139.2 L388.0 139.0 L388.5 138.1 L388.9 137.0 L389.2 135.8 L389.6 135.1 L389.4 134.1 L389.3 132.8 L389.8 132.0 L389.8 131.2 L389.9 130.4 L390.2 129.0 L390.3 128.3 L390.9 128.0 L391.7 127.5 L392.3 128.6 L392.3 129.8 L392.4 130.9 L393.1 131.6 L393.0 132.5 L392.7 133.8 L393.3 134.2 L393.2 135.3 L393.4 136.7 L394.1 137.5 L394.2 138.3 L394.8 139.3 L394.4 140.2 L394.8 141.4 L395.1 142.1 L394.9 143.2 L394.7 144.5 L394.7 145.5 L394.8 146.4 L394.9 147.2 L395.3 148.3 L395.8 147.4 L395.9 146.2 L396.7 145.7 L396.7 144.2 L397.6 143.5 L398.0 143.3 L399.2 143.9 L399.7 145.0 L400.6 144.9 L400.7 143.2 L401.3 142.5 L401.9 143.3 L401.8 144.5 L401.9 145.7 L402.0 146.3 L402.5 147.5 L403.2 148.2 L403.7 149.2 L403.9 148.1 L404.3 147.4 L403.9 146.5 L404.3 145.5 L403.8 144.4 L404.9 143.7 L405.0 142.7 L404.7 141.7 L405.3 140.1 L405.8 140.0 L405.8 141.0 L405.9 142.0 L406.5 142.9 L406.5 144.1 L406.1 145.2 L406.6 146.2 L406.8 147.1 L407.0 148.3 L406.9 149.5 L407.2 150.5 L407.1 151.2 L407.2 152.6 L407.6 153.0 L408.0 154.2 L408.4 154.9 L407.9 156.3 L408.7 157.0 L408.9 157.9 L409.2 158.7 L408.6 160.2 L409.2 160.8 L408.9 161.7 L409.2 162.8 L409.5 163.5 L409.4 164.7 L410.2 165.6 L409.9 166.4 L409.4 167.4 L410.0 168.3 L409.8 169.6 L410.1 170.4 L410.9 171.3 L410.2 172.3 L411.0 172.9 L410.7 174.0 L411.3 175.0 L411.9 175.9 L411.5 176.9 L412.3 177.8 L412.2 179.0 L412.0 179.5 L412.2 180.9 L412.5 181.7 L413.2 182.4 L412.8 183.8 L412.9 184.5 L413.2 185.5 L413.3 186.7 L413.2 185.8 L413.8 184.7 L413.9 183.7 L414.1 182.6 L414.0 181.6 L414.2 180.8 L414.0 181.9 L414.0 182.7 L414.4 183.7 L414.8 184.7 L414.7 185.9 L414.3 186.7 L414.8 187.6 L415.3 188.6 L414.9 189.8 L415.3 190.7 L415.0 191.7 L415.9 192.4 L416.4 194.0 L415.8 195.5 L416.7 195.8 L417.2 196.5 L417.7 197.4 L417.5 198.8 L417.8 200.1 L418.0 200.8 L418.2 201.6 L418.8 202.4 L418.2 203.7 L418.2 204.5 L418.3 205.9 L419.2 206.6 L419.2 207.5 L419.8 208.6 L419.2 209.7 L419.5 210.7 L420.0 211.7 L420.5 210.6 L420.1 209.6 L420.9 208.9 L420.3 207.6 L420.4 206.9 L420.8 205.8 L421.8 205.7 L422.5 206.7 L423.2 206.7 L423.8 205.1 L423.6 204.6 L424.2 203.3 L424.5 203.5 L425.5 205.1 L425.8 205.8 L426.6 205.6 L427.0 207.5 L427.5 206.9 L427.7 205.7 L428.2 204.4 L428.5 203.6 L428.3 202.5 L428.8 201.6 L429.4 201.0 L429.6 199.8 L429.2 198.4 L429.7 197.5 L429.7 196.4 L429.8 195.8 L429.7 194.4 L430.8 193.9 L430.1 192.6 L431.0 192.0 L430.8 190.8 L431.1 191.8 L431.4 192.8 L431.3 194.2 L432.0 195.0 L432.9 194.2 L432.8 193.5 L433.3 192.5 L434.0 193.7 L433.8 194.5 L434.7 195.0 L435.6 194.9 L435.8 193.3 L436.3 192.6 L436.3 191.9 L437.0 190.8 L437.7 190.8 L438.0 189.2 L438.3 188.3 L439.0 189.4 L438.3 190.2 L438.7 190.9 L439.4 191.9 L439.5 192.7 L439.3 194.0 L439.7 195.0 L439.8 196.2 L440.0 196.7 L440.5 198.1 L440.7 198.9 L440.6 199.7 L440.8 200.8 L441.0 200.1 L441.2 198.8 L441.6 197.8 L441.3 197.0 L441.5 196.1 L441.9 195.2 L442.0 194.2 L442.0 193.6 L443.0 193.2 L443.4 191.5 L443.3 190.8 L444.2 190.3 L444.7 190.0 L444.5 190.9 L445.0 192.2 L445.0 193.1 L445.6 193.9 L445.2 195.1 L445.8 195.8 L446.7 195.3 L447.0 194.2 L447.3 195.1 L447.7 196.3 L447.5 197.5 L448.1 197.9 L448.3 199.2 L448.9 200.7 L449.2 200.2 L450.0 201.7 L450.2 200.5 L450.7 200.1 L450.1 198.8 L450.5 197.5 L450.8 197.0 L451.3 195.8 L451.7 194.7 L451.9 194.1 L452.3 193.0 L451.6 191.9 L451.8 191.1 L452.5 190.0 L452.9 189.4 L452.8 187.9 L453.3 187.1 L453.7 185.8 L454.1 185.1 L455.0 185.0 L455.0 186.2 L455.3 186.9 L455.9 187.6 L456.3 188.3 L456.2 187.5 L457.1 186.3 L457.5 185.6 L457.4 184.5 L457.5 183.3 L457.6 182.5 L458.6 182.2 L458.7 180.8 L459.7 180.0 L459.7 178.9 L460.2 178.1 L459.6 176.9 L460.5 176.4 L459.9 175.1 L460.0 174.0 L460.5 173.3 L460.3 172.4 L460.7 171.3 L461.3 170.0 L462.5 170.0 L463.1 171.1 L462.8 172.0 L463.7 172.4 L463.7 173.3 L464.1 174.2 L464.1 175.5 L464.4 176.3 L463.9 177.3 L464.2 178.5 L464.7 179.2 L464.2 180.3 L465.1 180.9 L464.6 181.9 L464.7 182.9 L465.4 183.8 L464.7 184.8 L465.6 185.7 L465.3 186.7 L465.9 187.8 L466.0 188.4 L466.4 189.4 L466.7 190.0 L467.4 190.7 L467.6 192.3 L467.6 192.9 L468.0 194.2 L468.4 195.5 L468.6 196.0 L468.3 197.3 L468.9 198.3 L469.2 199.2 L469.6 200.0 L469.4 201.3 L469.7 202.7 L470.3 203.3 L471.7 203.3 L472.3 202.3 L471.7 201.3 L471.6 200.4 L472.6 199.6 L472.7 198.5 L472.0 197.6 L472.0 196.7 L472.5 195.8 L472.9 194.8 L473.1 193.7 L473.3 192.7 L473.2 191.9 L473.3 190.8 L473.9 191.7 L473.8 192.5 L473.8 193.8 L474.9 194.3 L474.7 195.8 L475.1 194.8 L475.6 194.5 L475.8 193.3 L475.8 191.9 L476.2 191.7 L477.0 190.8 L477.6 191.9 L478.3 191.7 L478.6 191.0 L479.1 189.6 L479.7 188.3 L479.7 187.5 L480.1 188.6 L480.8 189.2 L481.2 187.4 L482.0 187.5 L482.4 188.2 L481.9 189.5 L482.5 190.5 L482.9 191.4 L483.0 192.5 L483.4 192.7 L484.2 194.2 L485.3 193.3 L485.8 194.2 L486.3 195.3 L486.0 196.5 L486.2 197.5 L486.5 197.9 L486.7 199.2 L487.0 200.0 L487.2 200.8 L487.6 202.6 L488.0 203.3 L488.1 204.1 L488.1 205.1 L489.0 206.3 L489.2 206.7 L489.8 208.0 L489.8 209.4 L490.3 210.0 L491.3 210.8 L491.8 209.3 L492.2 209.0 L492.5 208.3 L492.7 206.9 L493.4 207.3 L493.7 205.8 L494.2 205.1 L494.0 203.6 L494.5 203.2 L495.0 202.5 L495.6 203.3 L496.3 204.2 L496.4 202.8 L497.2 202.9 L496.7 201.6 L497.5 200.8 L498.7 200.0 L499.4 200.9 L499.2 201.7"/>
<path id="usd" stroke="#e0141c" d="M47.5 235.8 L48.5 235.0 L49.2 235.0 L49.5 234.5 L50.2 233.3 L50.8 232.5 L51.6 232.1 L51.5 229.8 L52.5 230.0 L53.4 231.0 L54.2 230.8 L54.3 230.1 L55.5 229.2 L55.8 228.3 L57.0 227.3 L57.5 226.7 L58.7 227.9 L59.2 228.3 L59.7 228.3 L60.4 230.7 L60.8 230.8 L61.6 229.8 L62.5 230.0 L63.6 229.7 L64.2 231.7 L65.0 230.7 L65.8 230.0 L66.8 229.6 L67.5 230.8 L68.3 229.8 L69.2 230.0 L70.4 230.1 L70.8 231.7 L71.7 232.0 L72.5 230.8 L72.8 230.0 L74.0 230.2 L74.2 228.3 L74.9 228.4 L75.1 230.5 L75.8 230.8 L76.7 232.0 L77.5 231.7 L78.4 232.1 L79.2 230.8 L79.7 231.3 L79.9 233.3 L80.8 233.3 L81.6 234.2 L82.5 235.0 L83.1 233.0 L84.2 233.3 L85.0 234.3 L85.8 234.2 L86.7 232.7 L87.5 232.5 L88.2 233.9 L89.2 234.2 L90.0 234.3 L90.8 235.0 L91.5 235.7 L92.5 235.8 L93.3 235.3 L94.2 235.0 L94.8 234.1 L95.8 234.2 L96.6 233.9 L97.5 235.0 L98.4 235.2 L99.2 233.3 L99.8 232.4 L100.8 232.5 L101.9 232.6 L102.5 231.7 L103.3 232.7 L104.2 232.5 L105.1 233.4 L105.8 233.3 L106.3 234.5 L107.5 235.0 L108.4 236.0 L109.2 236.7 L110.0 236.7 L110.8 237.5 L111.4 237.5 L112.5 236.7 L113.5 237.1 L114.2 235.8 L115.0 236.8 L115.8 235.8 L116.7 235.6 L117.5 234.2 L118.3 233.4 L119.2 232.5 L120.3 231.0 L120.8 230.8 L121.8 231.1 L122.5 231.7 L123.3 231.2 L124.2 230.8 L125.1 230.8 L125.8 231.7 L126.7 231.0 L127.5 230.0 L128.3 230.2 L129.2 230.0 L129.8 228.0 L130.8 228.3 L131.4 226.9 L132.2 227.5 L132.5 225.8 L133.4 225.7 L133.9 223.9 L134.2 223.3 L134.7 222.5 L135.8 221.7 L135.9 219.7 L136.7 220.3 L137.5 219.2 L138.2 217.7 L138.2 217.0 L139.2 216.7 L139.6 215.4 L139.8 214.4 L140.4 214.4 L140.8 213.3 L141.3 212.1 L141.8 210.7 L142.5 210.8 L143.6 211.2 L144.2 212.5 L144.0 213.1 L145.0 214.1 L145.0 215.0 L146.0 215.1 L146.7 214.2 L147.2 212.3 L148.3 213.3 L149.0 213.6 L150.0 215.0 L150.5 214.9 L151.3 215.8 L151.5 215.0 L152.1 213.9 L151.8 213.1 L152.1 211.9 L152.1 211.1 L152.3 210.1 L152.1 209.0 L152.5 208.3 L153.2 207.9 L153.4 206.3 L153.8 205.4 L153.5 204.6 L153.4 203.1 L154.2 202.5 L155.2 203.2 L155.8 203.3 L157.0 203.5 L157.5 201.7 L158.2 201.1 L159.2 200.8 L160.2 201.6 L160.8 200.0 L161.1 199.2 L161.3 197.8 L162.0 196.8 L161.8 195.8 L162.5 195.0 L163.0 193.7 L163.1 192.9 L163.7 192.1 L163.1 191.3 L163.7 189.8 L164.2 189.2 L165.0 189.4 L165.0 187.1 L165.8 186.7 L166.7 186.4 L166.8 185.7 L167.5 184.2 L168.5 184.3 L169.2 182.5 L170.2 182.5 L170.8 181.7 L171.5 181.8 L172.5 182.5 L172.4 181.2 L172.6 180.8 L173.2 179.9 L173.2 179.0 L173.3 177.6 L173.9 177.2 L174.4 176.4 L174.2 175.0 L175.0 173.9 L175.8 174.2 L176.8 174.0 L176.6 175.3 L177.5 176.7 L178.5 177.1 L179.2 175.8 L179.6 174.7 L179.6 174.1 L179.7 172.9 L180.0 171.5 L180.6 171.3 L180.8 170.0 L181.2 169.8 L181.9 168.2 L181.6 167.8 L182.5 166.7 L182.3 165.7 L183.3 164.6 L182.8 163.4 L183.2 163.1 L183.1 161.5 L183.7 160.8 L183.7 161.7 L183.7 162.6 L183.8 163.8 L184.8 165.0 L184.8 165.5 L185.0 166.7 L185.4 165.5 L185.0 164.3 L185.5 164.2 L185.9 162.9 L185.7 161.6 L187.0 161.4 L186.7 160.0 L187.4 161.3 L187.1 161.8 L187.4 163.4 L187.6 164.2 L188.0 165.0 L189.0 164.2 L190.0 164.2 L190.3 162.9 L190.9 161.6 L191.7 161.7 L192.5 162.2 L193.3 160.8 L193.7 160.0 L193.7 159.1 L194.0 157.6 L194.8 156.7 L194.7 155.8 L194.6 155.0 L195.1 153.8 L195.3 153.0 L194.8 151.8 L195.0 150.9 L195.2 150.1 L195.8 149.2 L196.1 148.0 L196.5 147.3 L196.8 146.5 L196.6 145.2 L196.3 144.6 L196.6 143.8 L197.6 142.9 L197.1 141.9 L197.5 140.8 L198.1 140.9 L198.8 143.1 L199.2 143.3 L199.7 144.4 L200.0 145.3 L199.2 146.1 L199.4 147.4 L199.7 148.3 L200.5 149.1 L200.3 150.0 L200.9 150.8 L200.7 152.2 L201.6 152.7 L201.1 154.5 L201.7 155.0 L202.1 154.0 L202.3 153.2 L202.5 151.7 L203.0 150.8 L203.7 151.5 L203.6 152.9 L204.2 153.7 L204.3 154.6 L204.2 155.8 L204.7 156.5 L204.7 158.0 L204.7 158.7 L205.6 159.4 L205.3 160.7 L205.5 161.7 L205.6 160.8 L206.1 159.9 L206.1 158.6 L206.0 157.7 L206.6 156.7 L206.7 155.8 L207.4 155.2 L207.4 153.7 L207.0 152.3 L208.1 151.9 L208.0 150.8 L208.0 151.6 L208.7 153.0 L208.3 154.0 L208.7 154.8 L209.2 155.8 L209.9 157.2 L210.8 157.5 L211.0 159.2 L211.9 160.0 L212.5 160.0 L213.0 160.8 L212.9 161.9 L213.6 163.2 L213.1 164.3 L213.5 165.1 L213.5 166.1 L213.5 167.1 L214.2 168.3 L214.6 167.5 L215.1 166.2 L214.5 165.5 L215.4 164.6 L215.3 163.3 L215.4 164.6 L215.6 165.5 L216.5 166.9 L216.7 167.5 L217.1 167.1 L217.4 165.2 L218.0 165.0 L217.8 165.8 L218.8 167.1 L218.7 167.9 L219.0 168.6 L218.7 169.7 L219.2 170.8 L219.3 169.1 L219.5 168.8 L220.5 168.6 L220.8 167.5 L220.7 166.7 L221.3 165.4 L221.6 164.5 L222.0 163.5 L222.3 163.0 L222.3 162.1 L222.5 160.8 L223.0 159.9 L222.9 158.9 L222.7 157.7 L223.5 156.7 L223.3 155.8 L224.1 154.4 L224.9 154.5 L225.0 153.3 L225.9 153.9 L226.3 152.5 L226.5 153.2 L227.0 154.5 L227.2 155.5 L227.8 156.4 L227.5 157.5 L228.4 158.2 L229.2 159.2 L230.0 159.1 L230.8 160.0 L230.9 161.4 L231.2 162.2 L231.7 163.3 L231.8 162.0 L232.3 160.6 L233.3 160.5 L233.3 159.2 L233.7 158.8 L234.1 158.2 L234.5 157.1 L235.0 155.8 L235.9 155.3 L235.5 153.4 L236.3 152.9 L236.7 151.7 L236.8 150.3 L237.7 149.8 L238.3 149.2 L239.0 148.4 L239.2 147.7 L239.6 147.3 L239.9 145.9 L240.0 145.0 L240.6 144.5 L240.8 143.5 L241.4 142.8 L241.7 141.7 L242.7 141.9 L243.3 140.0 L244.1 140.0 L244.5 139.0 L245.0 137.5 L245.7 136.2 L246.7 135.8 L247.3 137.0 L248.3 136.7 L248.3 135.8 L249.0 135.4 L248.9 134.0 L249.9 133.5 L250.0 132.5 L250.4 131.4 L250.7 130.8 L251.7 130.0 L252.9 129.5 L253.3 128.3 L254.1 128.2 L255.0 127.5 L255.8 128.4 L256.7 128.3 L256.8 126.9 L257.3 127.1 L258.2 125.4 L258.3 125.0 L259.2 125.3 L260.0 125.8 L260.7 126.9 L261.7 127.5 L261.9 128.3 L262.0 129.9 L262.6 130.5 L263.0 131.7 L263.2 130.6 L263.7 129.7 L263.3 129.0 L264.2 127.8 L264.2 127.1 L264.5 125.8 L264.2 125.0 L264.3 124.2 L265.1 123.4 L264.9 122.7 L265.5 121.7 L266.4 122.5 L266.7 123.3 L266.9 124.5 L266.8 125.5 L267.5 126.2 L267.8 127.1 L267.4 127.9 L267.5 129.0 L268.0 130.0 L268.1 130.9 L268.8 132.2 L269.0 132.8 L269.2 134.2 L270.0 134.8 L270.4 135.2 L270.0 137.0 L270.8 137.5 L272.0 137.4 L272.5 139.2 L273.1 138.5 L273.1 137.6 L273.6 136.2 L273.7 134.9 L273.8 134.2 L273.9 132.9 L274.1 132.2 L274.2 130.9 L274.7 130.4 L275.0 129.2 L276.0 129.5 L276.7 130.0 L277.4 129.5 L278.3 128.3 L279.0 127.5 L278.4 126.6 L279.5 125.7 L279.3 124.1 L279.7 123.3 L280.5 122.4 L280.8 121.1 L280.8 120.0 L281.5 119.8 L282.5 119.2 L283.1 119.1 L284.2 118.3 L284.9 118.6 L285.8 120.0 L286.6 118.6 L287.5 119.2 L288.4 119.2 L289.2 120.8 L290.0 120.7 L289.6 118.2 L290.5 118.3 L290.3 117.4 L290.7 115.9 L290.9 114.7 L291.7 114.2 L292.5 113.7 L293.1 113.1 L293.3 111.7 L293.5 111.0 L294.5 110.4 L294.1 109.2 L294.7 108.3 L294.6 108.8 L295.6 110.0 L295.8 110.8 L296.6 111.5 L297.5 111.7 L297.4 110.7 L298.1 109.8 L298.9 109.0 L299.0 108.3 L299.2 107.5 L299.9 106.8 L300.3 105.8 L300.9 104.3 L300.8 103.3 L301.7 102.0 L302.0 101.8 L301.7 99.5 L302.5 99.2 L302.8 98.7 L303.7 97.6 L303.6 96.1 L303.5 95.6 L304.2 95.0 L304.8 94.1 L304.5 93.7 L305.0 92.4 L305.8 91.7 L306.8 92.3 L307.5 92.5 L307.9 93.2 L308.2 94.8 L308.3 95.8 L309.0 95.8 L310.0 96.7 L309.7 97.8 L310.3 98.7 L310.2 99.7 L310.5 100.7 L309.9 101.9 L311.0 102.8 L310.7 103.8 L310.5 104.9 L310.8 105.8 L311.5 105.7 L312.3 104.4 L312.5 103.3 L313.5 104.2 L314.2 104.2 L315.1 104.2 L315.8 105.8 L316.5 105.0 L317.5 105.0 L318.4 104.4 L319.2 104.2 L319.1 104.9 L319.8 106.1 L320.0 106.8 L319.7 107.9 L320.2 108.9 L320.0 109.7 L320.8 110.6 L320.8 111.7 L320.7 112.4 L321.2 113.9 L321.6 115.5 L322.5 115.8 L323.7 116.0 L324.2 114.2 L324.0 115.3 L324.3 116.0 L323.9 117.2 L324.3 118.1 L324.8 119.1 L324.6 120.1 L324.8 120.9 L324.8 122.0 L325.3 122.7 L325.0 123.9 L325.5 124.9 L325.0 125.7 L325.3 126.7 L325.2 125.2 L325.6 124.7 L325.9 123.3 L326.4 122.8 L326.7 121.7 L327.0 119.7 L328.0 120.0 L328.2 121.3 L328.2 121.4 L329.0 121.9 L329.2 123.3 L329.2 124.6 L329.2 125.2 L329.5 126.3 L330.2 127.4 L330.3 128.2 L330.3 129.4 L330.8 130.0 L331.7 129.8 L331.7 129.1 L332.5 127.5 L332.7 128.0 L333.3 129.6 L333.9 129.9 L334.2 130.8 L334.8 132.3 L335.8 131.7 L336.8 132.4 L337.0 134.0 L337.5 134.2 L338.2 132.9 L339.2 133.3 L340.0 134.3 L339.9 134.9 L339.7 136.6 L340.2 137.6 L340.5 138.3 L340.8 139.2 L341.1 138.2 L341.8 137.6 L341.7 136.2 L341.5 135.0 L342.0 134.2 L342.3 133.3 L342.9 132.4 L342.7 131.2 L343.0 130.7 L342.8 129.4 L343.6 128.5 L343.3 127.5 L343.8 127.2 L344.4 126.5 L344.2 125.4 L344.7 124.2 L345.8 123.3 L346.4 122.3 L346.5 121.3 L346.3 120.2 L346.3 119.2 L347.0 118.3 L347.4 117.2 L347.5 115.8 L348.3 115.8 L349.0 116.1 L350.0 116.7 L350.5 115.9 L351.3 115.0 L351.8 116.2 L351.4 117.0 L352.0 118.0 L352.1 119.0 L352.3 120.0 L352.5 120.8 L352.5 122.1 L353.3 122.3 L353.4 123.9 L353.6 124.2 L353.1 125.6 L353.5 126.4 L354.4 127.5 L354.2 128.3 L354.9 127.5 L354.6 126.4 L355.2 125.4 L354.5 124.6 L355.0 123.5 L355.3 122.5 L355.3 121.5 L355.8 120.1 L356.7 119.4 L356.7 118.3 L356.7 119.8 L357.8 120.4 L357.5 121.4 L358.0 122.5 L358.2 123.3 L358.8 124.6 L359.0 125.5 L358.4 126.4 L359.0 127.1 L359.2 128.3 L359.7 127.3 L359.1 126.4 L359.9 125.3 L359.2 124.3 L359.4 123.4 L359.1 122.3 L359.9 121.4 L360.4 120.4 L360.0 119.2 L360.0 118.3 L360.4 117.3 L360.0 116.4 L360.7 115.2 L360.2 114.2 L360.8 113.3 L361.0 114.1 L360.8 115.5 L361.4 116.4 L361.9 117.0 L362.0 118.3 L362.2 118.9 L363.1 119.5 L363.3 120.8 L363.6 119.6 L364.1 118.6 L364.7 117.5 L364.7 116.7 L365.0 117.8 L365.6 117.7 L365.8 119.2 L366.4 118.7 L367.0 118.1 L367.1 116.4 L367.5 115.8 L367.7 114.4 L368.4 113.3 L369.2 113.3 L370.3 112.5 L370.5 113.2 L370.8 114.7 L371.4 115.6 L371.3 116.3 L371.7 117.5 L372.2 118.9 L373.0 118.2 L373.0 120.0 L373.7 118.9 L374.2 118.3 L374.8 118.9 L374.2 120.7 L374.9 121.3 L375.3 122.5 L376.2 123.1 L376.6 123.7 L376.7 125.0 L376.9 125.6 L378.0 126.7 L378.0 127.5 L378.4 127.7 L379.2 129.2 L379.3 127.9 L379.3 127.1 L379.6 126.1 L380.3 125.8 L381.1 125.0 L380.7 124.2 L381.1 123.5 L381.7 122.5 L381.8 121.4 L382.2 120.8 L382.8 119.7 L383.0 118.3 L383.5 119.9 L384.2 120.0 L384.5 121.2 L384.5 122.2 L384.8 123.0 L385.2 124.0 L385.3 125.0 L385.7 124.4 L385.4 122.9 L385.8 121.9 L386.4 120.7 L386.7 120.0 L386.7 119.0 L387.3 117.8 L387.4 117.0 L387.6 115.6 L388.0 115.0 L388.4 114.4 L389.1 113.6 L389.2 112.5 L389.6 113.8 L390.4 113.2 L390.8 115.0 L391.9 115.9 L392.5 116.7 L393.6 118.0 L394.2 118.3 L394.3 117.6 L395.4 116.8 L395.8 115.2 L395.8 114.2 L396.6 113.0 L396.6 112.3 L397.2 111.2 L397.5 110.8 L398.1 109.8 L398.3 109.2 L398.7 110.6 L398.8 110.3 L399.7 111.7 L400.1 113.3 L400.8 113.3 L401.1 112.2 L401.2 111.5 L401.6 110.4 L401.7 109.2 L402.6 108.5 L402.9 107.4 L403.3 106.7 L404.2 106.6 L405.0 108.3 L405.7 108.4 L406.7 110.0 L406.3 108.8 L406.5 108.0 L406.8 107.2 L407.6 106.2 L407.4 105.5 L407.6 104.5 L407.7 103.4 L407.5 102.5 L407.6 101.5 L407.2 100.5 L408.1 99.6 L408.1 98.6 L407.9 97.6 L408.1 96.7 L407.7 95.6 L407.6 94.6 L407.8 93.7 L408.1 92.7 L408.0 91.7 L407.8 90.6 L408.9 89.9 L408.9 88.5 L408.8 87.6 L409.2 86.7 L410.2 86.5 L410.6 84.4 L410.8 84.2 L411.5 83.4 L411.7 82.2 L411.7 81.1 L412.3 81.5 L412.5 80.0 L412.9 81.2 L413.3 81.6 L413.7 82.5 L413.9 83.8 L414.6 83.7 L415.0 85.0 L415.5 86.0 L415.8 87.6 L416.7 87.5 L417.6 87.1 L418.3 88.3 L417.9 87.1 L418.3 86.1 L418.9 85.6 L418.7 84.5 L419.6 83.4 L419.2 82.5 L419.8 81.7 L419.4 80.2 L419.9 79.6 L419.9 78.7 L420.0 77.5 L420.5 76.0 L421.7 75.8 L422.7 76.5 L423.3 75.0 L424.2 75.6 L425.0 74.2 L425.6 75.0 L425.2 76.7 L426.3 77.6 L426.3 78.3 L426.7 77.6 L427.4 76.7 L427.5 75.8 L427.6 77.3 L427.9 78.1 L428.4 79.1 L428.7 80.0 L429.4 78.9 L429.7 77.8 L430.0 77.5 L430.2 78.4 L430.5 79.6 L431.1 80.8 L430.6 81.2 L431.3 82.5 L431.9 83.0 L432.0 84.1 L432.5 85.0 L433.7 85.8 L433.7 87.2 L434.2 87.5 L434.5 88.4 L434.9 89.6 L435.3 90.8 L435.9 91.6 L436.0 92.7 L435.8 93.6 L436.8 94.6 L436.7 95.8 L437.4 95.2 L437.5 94.5 L437.5 93.5 L438.0 92.5 L438.7 91.1 L439.7 91.7 L440.6 91.6 L441.3 92.5 L441.9 91.3 L443.0 90.8 L443.6 91.3 L443.4 92.6 L444.3 93.7 L444.0 94.9 L444.7 95.8 L445.0 94.9 L444.9 93.6 L445.1 92.7 L445.8 91.7 L446.0 91.1 L447.0 90.0 L447.6 90.0 L448.3 89.2 L448.7 90.4 L449.2 90.3 L449.7 91.7 L450.5 91.6 L450.8 93.3 L451.2 94.2 L450.7 95.5 L451.0 96.2 L451.4 97.1 L451.8 98.1 L452.0 99.2 L452.0 99.7 L452.7 100.5 L452.7 101.6 L453.3 102.5 L453.5 103.5 L454.2 104.4 L454.0 104.6 L454.7 105.8 L455.4 104.9 L455.6 104.8 L455.8 103.3 L456.9 102.0 L457.5 101.7 L458.2 100.9 L459.2 100.0 L459.7 100.3 L459.9 101.3 L460.8 102.5 L461.1 103.9 L461.5 104.2 L462.5 105.0 L463.0 103.9 L462.6 102.9 L463.1 102.0 L463.7 101.7 L464.3 102.9 L464.5 103.4 L465.0 104.2 L465.5 103.1 L466.1 102.9 L466.3 101.8 L466.3 100.8 L467.5 101.7 L468.3 101.9 L468.7 100.0 L469.2 99.2 L470.0 99.2 L470.0 99.9 L470.6 100.9 L471.5 102.1 L471.3 103.3 L471.3 104.0 L471.5 105.2 L472.6 106.1 L472.5 106.7 L473.5 107.6 L473.7 108.2 L474.2 109.2 L475.0 110.6 L475.8 110.0 L477.0 109.2 L477.3 109.7 L478.0 110.8 L477.6 111.7 L478.3 112.5 L478.4 114.0 L478.6 113.8 L479.0 115.1 L479.7 115.8 L479.9 114.2 L480.8 114.2 L481.3 115.5 L481.4 115.8 L481.3 117.8 L482.0 118.3 L482.8 117.4 L482.9 116.6 L482.7 115.4 L483.0 114.6 L483.3 113.3 L483.8 113.2 L484.2 112.3 L484.7 110.8 L484.9 111.6 L485.6 112.2 L485.2 113.6 L485.8 114.2 L485.7 115.1 L486.1 116.6 L486.2 117.4 L487.0 118.3 L487.5 117.9 L487.9 116.1 L488.3 115.8 L489.2 114.8 L489.7 115.0 L490.2 115.6 L490.3 116.8 L490.8 117.5 L491.1 118.4 L491.0 119.4 L491.7 119.9 L492.0 120.8 L492.7 121.9 L492.6 122.5 L492.2 123.7 L493.2 124.5 L493.0 125.8 L493.4 126.4 L493.3 128.1 L494.2 128.3 L494.6 129.8 L495.3 130.0 L495.6 127.9 L496.7 128.3 L496.7 129.4 L496.9 129.9 L497.6 130.9 L498.0 131.7 L499.2 132.5"/>
<path id="cad" stroke="#18258a" d="M47.5 236.7 L48.0 237.5 L48.1 238.5 L48.0 239.3 L47.6 240.7 L48.4 241.5 L48.4 242.3 L48.3 243.3 L48.9 244.0 L48.2 245.2 L48.5 246.5 L49.4 247.4 L49.2 248.3 L49.3 249.3 L49.4 250.8 L50.0 251.7 L51.2 252.9 L51.7 253.3 L51.9 254.5 L52.8 255.3 L53.3 256.3 L53.3 257.5 L53.2 259.0 L54.1 259.5 L54.1 260.9 L54.1 261.9 L54.7 262.5 L55.3 263.3 L55.8 264.3 L56.3 265.0 L56.5 263.6 L56.7 263.6 L57.7 261.9 L58.0 261.7 L58.6 260.5 L59.0 259.9 L59.7 259.2 L60.3 259.1 L61.3 257.5 L62.0 256.6 L63.0 256.7 L63.5 257.7 L63.2 258.7 L63.7 259.6 L64.4 260.9 L64.2 261.7 L65.0 261.6 L65.2 263.9 L65.8 264.2 L66.5 262.7 L67.5 262.5 L67.8 261.3 L68.4 260.4 L69.0 260.6 L69.3 259.6 L69.2 258.3 L69.6 259.0 L69.2 260.5 L69.1 261.3 L69.4 262.3 L70.2 263.1 L70.0 264.2 L70.6 263.0 L71.7 262.5 L71.6 263.4 L73.0 263.7 L73.2 264.2 L73.3 265.8 L73.8 267.1 L74.4 267.5 L74.4 269.4 L74.7 270.0 L74.4 268.7 L74.8 267.6 L75.0 267.0 L75.6 265.7 L75.8 265.0 L76.6 263.8 L76.4 262.5 L76.7 261.7 L77.0 260.9 L77.5 260.1 L77.8 258.2 L78.3 257.5 L78.8 255.8 L79.8 255.6 L80.0 255.0 L80.6 254.8 L81.2 253.3 L81.8 253.5 L82.1 254.6 L81.8 255.7 L82.5 256.7 L83.5 256.6 L83.6 259.2 L84.2 259.2 L85.0 260.5 L85.8 260.0 L86.5 260.0 L87.2 259.0 L87.5 257.5 L87.5 256.5 L88.7 255.6 L89.2 255.8 L89.2 254.2 L89.9 254.4 L90.8 255.0 L91.5 254.8 L92.0 253.9 L92.5 252.5 L93.4 252.6 L94.2 251.7 L94.7 252.4 L95.8 253.3 L95.8 252.9 L97.1 252.6 L96.6 250.8 L97.5 250.0 L98.6 251.4 L99.2 251.7 L99.9 253.6 L100.8 253.3 L101.1 251.5 L102.0 251.9 L102.5 250.8 L103.5 250.7 L103.2 248.3 L104.2 248.3 L104.1 247.6 L104.6 246.5 L105.7 245.7 L105.8 244.2 L106.4 244.1 L106.7 243.0 L107.5 241.7 L107.9 241.1 L108.9 240.9 L109.2 239.2 L110.0 238.7 L110.8 238.3 L111.8 238.0 L111.9 240.1 L112.5 240.8 L112.8 242.2 L113.5 241.9 L113.8 243.7 L114.2 244.2 L115.2 243.1 L115.8 243.3 L116.7 244.5 L117.0 245.0 L117.5 245.8 L118.1 247.0 L118.4 247.1 L119.2 248.8 L119.2 249.2 L119.5 249.5 L120.0 251.4 L120.0 251.8 L120.8 252.5 L121.8 253.6 L122.2 254.7 L122.5 255.0 L123.3 254.1 L123.6 253.4 L124.1 252.2 L124.2 251.7 L124.7 249.9 L125.8 250.0 L126.7 250.2 L127.5 250.8 L128.4 250.3 L128.2 249.2 L129.2 248.3 L130.0 247.2 L130.8 246.7 L131.2 247.6 L132.3 248.1 L132.5 249.2 L132.3 250.1 L132.5 251.1 L132.8 252.3 L132.9 253.2 L132.7 254.0 L133.3 255.0 L134.1 254.3 L134.5 253.3 L134.7 253.0 L135.0 251.7 L135.2 250.5 L136.0 250.4 L136.7 249.2 L137.4 250.3 L137.7 250.7 L138.0 252.5 L138.0 253.3 L138.4 254.7 L138.8 255.4 L139.3 256.4 L139.2 257.5 L139.7 258.5 L140.8 259.2 L141.6 259.1 L142.5 260.0 L143.4 259.9 L144.2 260.8 L145.0 261.0 L144.4 263.0 L145.0 263.3 L145.3 264.9 L146.4 265.6 L146.7 265.8 L147.1 264.9 L147.9 264.0 L148.4 263.2 L148.3 261.7 L148.9 261.8 L149.7 263.3 L150.2 262.5 L150.6 261.4 L151.0 260.2 L150.8 259.2 L151.0 260.1 L151.2 261.6 L151.9 261.8 L151.8 262.9 L151.8 264.6 L152.5 265.0 L152.9 265.7 L153.3 266.9 L153.9 267.2 L153.7 268.3 L154.1 267.1 L154.5 266.9 L155.1 265.8 L155.0 265.0 L155.3 264.2 L156.6 262.8 L156.7 262.5 L157.3 264.3 L158.3 263.3 L158.5 262.5 L158.9 260.9 L160.0 260.6 L160.0 260.0 L160.3 261.7 L161.4 260.9 L161.7 262.5 L161.8 263.3 L162.5 263.8 L163.3 265.0 L163.8 266.2 L164.6 267.3 L165.0 267.5 L165.6 268.4 L165.9 269.0 L166.1 270.2 L165.3 271.2 L165.7 272.3 L166.3 273.3 L166.4 274.4 L166.4 275.3 L167.0 276.3 L167.5 276.7 L168.4 276.6 L169.2 275.8 L170.0 275.9 L170.8 275.0 L171.5 274.3 L172.5 274.2 L172.9 275.5 L173.5 275.6 L173.8 277.5 L173.7 278.2 L174.2 279.2 L174.7 280.5 L174.9 281.1 L174.8 281.9 L175.0 282.9 L175.8 284.2 L176.5 284.7 L176.1 286.7 L176.8 286.9 L176.9 288.3 L177.5 289.2 L178.2 289.3 L179.2 290.0 L179.1 291.2 L178.9 292.3 L179.1 293.1 L179.5 294.3 L179.6 295.1 L180.0 296.3 L179.5 297.3 L180.0 298.3 L180.6 299.3 L180.4 300.4 L180.1 301.5 L179.9 302.4 L180.6 303.4 L180.1 304.6 L180.2 305.6 L180.5 306.5 L180.8 307.5 L181.1 308.5 L181.6 309.7 L181.6 309.6 L182.1 310.9 L182.5 311.7 L182.9 312.7 L183.3 313.6 L182.5 315.0 L183.5 315.9 L182.9 317.2 L183.9 317.9 L183.4 319.1 L183.7 320.0 L183.3 319.0 L183.5 318.0 L183.7 316.9 L184.6 316.0 L184.7 315.1 L184.4 313.9 L184.1 313.0 L185.3 312.0 L185.3 311.2 L185.0 310.0 L185.9 309.4 L186.7 309.2 L186.6 310.3 L187.3 311.1 L186.7 311.9 L187.5 313.2 L187.5 314.1 L187.5 315.0 L188.1 314.2 L188.1 313.0 L188.1 312.0 L188.1 310.9 L189.0 310.3 L189.1 309.2 L189.5 308.3 L189.2 307.5 L189.9 308.1 L189.2 309.3 L189.5 310.6 L190.5 311.2 L190.4 312.2 L190.9 313.5 L190.8 314.2 L191.5 313.2 L192.0 312.3 L191.9 311.5 L192.6 311.2 L192.5 310.0 L192.8 310.3 L193.4 311.2 L194.2 312.5 L194.9 312.2 L195.8 313.3 L196.4 313.9 L196.6 314.8 L196.1 316.2 L197.1 317.3 L197.6 318.6 L197.5 319.2 L198.7 320.0 L199.4 318.9 L199.4 318.4 L199.0 317.3 L200.0 316.4 L200.0 315.0 L200.6 314.2 L200.2 312.6 L200.8 311.7 L201.1 311.0 L201.3 310.0 L201.4 311.0 L201.7 312.5 L202.7 312.6 L202.7 314.2 L203.6 314.3 L204.0 315.8 L203.9 314.8 L204.4 313.9 L205.0 312.7 L204.7 312.1 L205.3 310.8 L205.6 311.7 L206.7 312.5 L206.5 311.1 L207.6 310.3 L207.9 309.8 L207.3 308.4 L208.0 307.5 L208.4 306.4 L207.9 305.3 L208.4 304.3 L208.5 303.3 L208.2 302.1 L209.2 301.4 L208.6 300.1 L209.2 299.2 L209.8 298.0 L210.2 298.2 L210.8 296.7 L211.4 296.7 L212.0 294.5 L212.5 294.2 L212.9 293.3 L212.7 292.3 L213.8 291.2 L213.4 289.7 L214.2 289.2 L214.6 289.9 L214.8 291.1 L215.1 292.1 L214.7 293.0 L214.6 294.2 L215.3 295.0 L215.3 294.3 L215.9 292.9 L216.0 292.0 L216.1 291.2 L216.7 290.0 L217.4 290.6 L217.3 292.1 L218.0 292.9 L218.0 293.3 L218.4 292.5 L218.9 290.9 L218.5 290.4 L219.2 289.2 L219.1 290.5 L219.6 291.2 L220.4 291.7 L219.7 293.0 L220.4 293.7 L220.4 294.7 L220.8 295.8 L220.7 297.4 L221.6 297.6 L221.8 298.3 L221.8 300.3 L222.5 300.8 L222.8 301.4 L223.1 302.4 L223.5 303.9 L223.0 305.0 L224.0 305.8 L223.5 307.0 L224.2 307.5 L225.1 308.8 L225.1 308.4 L225.3 310.0 L225.7 309.2 L226.4 307.8 L226.7 307.5 L227.2 306.7 L227.4 305.5 L227.2 304.5 L227.6 303.3 L228.3 302.5 L229.3 301.6 L230.0 301.7 L230.5 300.4 L231.3 300.0 L231.5 300.6 L231.8 301.3 L231.7 302.2 L232.5 303.3 L233.1 303.7 L234.2 305.0 L234.5 306.0 L234.9 306.7 L235.0 308.1 L235.5 308.8 L235.9 309.8 L235.8 310.8 L235.9 311.8 L236.2 312.8 L236.9 313.6 L236.6 315.0 L236.5 315.9 L237.4 316.5 L237.5 317.5 L238.2 317.9 L238.8 318.7 L239.2 320.0 L240.0 320.0 L240.2 320.8 L240.4 321.8 L240.6 322.9 L240.2 324.1 L240.3 324.8 L240.8 325.8 L241.6 326.0 L242.1 328.0 L241.7 327.8 L242.5 329.2 L243.5 327.5 L244.2 327.5 L245.3 326.7 L245.9 327.7 L245.4 328.6 L246.4 329.5 L246.2 330.7 L246.7 331.7 L247.5 332.0 L247.9 333.6 L248.4 333.3 L248.3 335.0 L248.6 334.4 L249.1 333.2 L249.2 332.3 L249.7 330.8 L250.1 331.5 L250.9 331.5 L251.3 333.3 L251.7 334.6 L251.7 335.2 L252.3 335.9 L253.0 336.7 L253.8 337.4 L254.0 338.5 L254.2 339.1 L254.4 340.3 L254.7 341.7 L255.3 341.3 L255.2 340.4 L255.8 339.2 L256.5 340.3 L257.5 340.0 L258.7 339.3 L259.2 338.3 L259.3 338.7 L259.8 340.9 L260.8 340.8 L261.4 340.6 L261.9 339.2 L262.1 338.9 L262.5 337.5 L262.7 338.8 L263.8 338.7 L264.2 340.0 L264.2 340.4 L264.8 341.9 L265.7 342.0 L265.8 343.3 L266.1 344.3 L267.0 345.0 L267.1 344.0 L267.7 343.1 L267.9 342.1 L267.9 341.0 L267.8 340.5 L267.7 339.5 L268.0 338.2 L268.3 337.5 L268.7 336.4 L268.9 335.7 L269.2 335.1 L269.7 334.1 L269.6 333.2 L269.6 331.8 L270.1 331.2 L270.0 330.0 L271.0 330.1 L271.7 328.3 L272.6 328.9 L273.3 329.2 L274.0 330.2 L274.3 331.2 L273.8 331.9 L274.9 333.5 L275.0 334.2 L275.0 334.9 L276.0 336.4 L275.6 337.7 L276.3 338.3 L276.3 337.3 L276.3 335.9 L277.3 335.3 L277.0 334.3 L277.5 333.3 L278.6 333.9 L279.2 334.2 L279.9 335.2 L280.3 335.6 L280.7 337.5 L280.8 338.3 L281.7 338.2 L282.5 340.0 L283.3 340.2 L284.2 340.8 L285.1 340.8 L285.8 340.0 L286.6 340.7 L287.5 340.0 L288.4 340.8 L289.0 341.0 L289.2 342.5 L289.6 343.7 L289.2 344.7 L290.2 345.4 L290.1 346.3 L290.3 347.5 L291.0 348.3 L290.7 349.8 L290.8 350.9 L291.1 351.8 L291.7 352.5 L292.1 353.7 L291.9 355.0 L293.0 355.2 L293.0 356.7 L293.3 357.4 L293.5 359.0 L293.9 359.9 L294.2 360.7 L294.2 361.7 L294.8 362.6 L295.0 362.7 L295.3 364.2 L296.0 363.3 L296.4 362.0 L296.0 361.2 L296.7 360.0 L297.5 361.0 L298.3 360.0 L298.5 361.5 L299.0 361.5 L299.2 362.7 L299.7 363.3 L299.5 364.2 L300.6 365.2 L300.8 366.1 L301.0 367.2 L300.8 368.3 L301.3 369.1 L301.1 370.4 L301.4 370.6 L302.0 371.7 L302.5 372.7 L303.0 373.8 L302.5 374.6 L302.9 375.3 L303.3 376.8 L303.3 377.5 L303.8 378.5 L303.1 379.7 L303.5 380.3 L304.4 381.2 L303.8 382.2 L304.2 383.3 L305.3 382.5 L305.5 381.6 L305.2 380.4 L305.7 379.6 L305.7 378.9 L306.4 377.8 L306.3 377.0 L306.2 376.1 L306.3 375.0 L306.1 373.7 L307.0 373.2 L307.5 372.4 L307.2 371.0 L307.5 370.0 L307.4 369.5 L308.2 368.2 L308.6 367.6 L308.9 366.2 L309.2 365.8 L309.4 364.5 L309.8 363.6 L310.3 363.3 L310.4 362.4 L310.6 361.2 L310.6 360.5 L310.9 359.3 L310.6 358.5 L311.3 357.5 L312.0 358.5 L312.0 359.6 L312.3 360.5 L312.2 361.3 L311.9 362.5 L312.8 362.9 L312.5 364.2 L312.7 363.6 L312.9 362.3 L313.5 361.5 L313.7 360.8 L314.1 359.8 L315.0 360.0 L315.8 359.1 L315.9 358.2 L315.9 357.2 L316.3 355.8 L316.6 356.6 L317.5 357.5 L317.9 356.4 L317.9 355.4 L318.2 354.6 L318.2 353.5 L317.7 352.7 L318.3 351.7 L318.3 350.8 L319.2 350.1 L318.8 348.5 L319.6 348.0 L318.8 347.1 L319.4 345.7 L319.7 345.0 L320.4 344.7 L320.9 343.6 L320.8 342.5 L321.9 342.6 L322.5 340.8 L323.5 341.3 L324.2 341.7 L324.7 340.9 L324.3 339.9 L324.7 338.3 L325.0 337.5 L325.3 336.7 L325.6 335.4 L325.4 334.6 L326.0 333.5 L326.5 332.5 L326.3 331.7 L326.1 332.6 L326.8 333.4 L326.9 334.8 L326.7 335.6 L326.9 336.4 L327.5 337.5 L327.6 336.6 L327.9 335.6 L328.3 335.1 L328.7 334.2 L329.2 333.4 L329.6 333.0 L329.8 331.5 L330.0 330.8 L329.8 332.0 L330.4 332.7 L330.8 333.9 L330.7 334.6 L330.7 335.7 L331.3 336.7 L331.2 335.5 L331.9 334.8 L332.5 334.2 L332.2 332.6 L332.5 331.7 L332.8 330.8 L333.0 329.6 L333.8 329.0 L333.7 327.5 L334.3 326.8 L334.1 325.7 L334.4 324.7 L335.0 323.3 L335.3 322.0 L335.4 321.2 L335.6 320.8 L336.3 320.0 L336.5 319.0 L336.5 318.7 L337.2 317.5 L337.5 316.7 L337.9 315.2 L338.5 314.7 L339.2 314.2 L340.0 313.9 L340.8 313.3 L341.1 314.3 L341.3 315.4 L341.4 316.1 L341.4 317.3 L342.0 318.3 L342.1 319.2 L342.1 320.3 L342.2 321.5 L342.0 322.5 L342.0 323.4 L342.5 324.4 L343.3 325.3 L342.8 326.4 L343.0 327.5 L343.3 328.1 L344.2 329.2 L344.6 327.9 L345.0 327.5 L345.4 326.5 L345.3 325.0 L346.1 326.1 L346.2 326.6 L346.1 327.5 L346.7 328.3 L347.2 329.3 L347.5 329.9 L346.9 331.4 L347.8 331.8 L347.1 333.0 L347.7 333.8 L348.0 335.0 L348.3 334.6 L349.0 333.6 L349.7 332.5 L350.0 331.5 L350.8 330.1 L350.8 329.2 L351.0 330.3 L352.0 330.8 L352.7 330.0 L351.8 328.9 L353.0 327.8 L353.0 327.2 L352.7 326.3 L353.1 325.3 L353.2 324.0 L353.3 323.3 L353.7 322.7 L353.5 321.4 L354.4 320.1 L354.7 319.2 L354.9 320.3 L355.8 320.8 L355.9 321.8 L355.9 322.9 L356.3 323.9 L355.9 324.9 L356.2 325.9 L356.1 326.9 L356.8 327.8 L356.5 329.0 L357.0 330.0 L356.9 329.1 L357.6 328.0 L357.2 327.0 L358.0 326.0 L358.3 325.4 L358.1 324.0 L358.3 323.3 L359.0 322.3 L359.7 322.5 L360.2 323.3 L360.4 324.4 L360.6 325.5 L360.2 326.3 L360.8 327.2 L360.8 328.3 L361.0 329.5 L360.9 330.6 L362.0 331.5 L361.8 332.2 L362.0 333.3 L362.5 332.2 L362.7 331.2 L362.3 330.0 L362.8 329.2 L363.1 328.2 L362.6 327.0 L362.5 325.9 L363.0 325.0 L363.2 325.9 L363.8 326.2 L364.2 327.5 L363.9 328.6 L364.3 329.6 L364.4 330.4 L365.5 331.1 L365.3 332.5 L365.6 331.6 L365.9 330.6 L366.2 329.5 L366.3 328.6 L366.3 327.8 L366.7 326.7 L367.2 327.9 L368.0 327.5 L368.7 328.8 L368.8 329.4 L368.7 330.2 L369.4 331.6 L369.2 332.5 L369.2 334.0 L369.7 335.3 L370.3 335.8 L370.9 335.9 L371.7 336.7 L371.8 335.6 L372.2 334.8 L373.1 334.0 L373.0 332.5 L374.2 331.7 L374.9 332.6 L375.3 334.1 L375.3 335.0 L375.9 333.8 L375.5 332.8 L376.2 332.1 L376.0 330.9 L376.2 329.8 L376.7 329.2 L377.2 328.4 L377.8 327.3 L377.4 325.5 L378.0 325.0 L378.5 324.3 L379.2 323.3 L379.8 324.7 L379.5 325.8 L379.6 326.7 L380.3 327.5 L381.1 327.6 L381.7 328.3 L381.8 329.4 L382.2 330.7 L382.5 331.8 L383.0 332.5 L382.8 331.6 L383.4 330.8 L383.1 329.5 L383.4 328.7 L383.9 327.6 L383.7 326.5 L384.2 325.8 L384.6 324.1 L385.3 324.2 L385.8 325.3 L386.2 325.9 L385.7 327.2 L385.9 327.9 L386.9 328.6 L386.7 330.0 L386.6 330.8 L386.9 331.7 L387.6 332.6 L387.2 333.7 L387.3 334.8 L388.0 335.8 L388.5 337.0 L389.2 337.5 L390.3 336.7 L390.7 335.6 L391.5 334.8 L391.0 333.2 L391.7 332.5 L391.7 333.9 L392.2 334.5 L392.6 335.0 L392.8 336.5 L392.8 337.4 L393.0 338.3 L392.8 336.8 L393.8 335.9 L393.9 335.0 L394.2 334.2 L394.5 335.3 L395.3 335.8 L396.1 335.9 L396.7 337.5 L397.2 337.0 L397.5 335.9 L398.1 335.5 L398.0 334.2 L398.2 333.2 L399.3 332.0 L399.7 331.7 L399.9 332.8 L400.4 333.7 L400.4 334.5 L399.9 335.8 L401.0 336.3 L400.8 337.5 L400.7 338.3 L401.9 339.5 L401.7 339.8 L402.0 340.8 L402.6 342.1 L403.3 341.7 L403.9 342.4 L405.0 342.5 L405.7 343.8 L406.7 343.3 L407.1 345.1 L408.3 345.0 L408.9 344.2 L409.2 343.0 L409.8 342.4 L409.7 340.8 L410.4 340.8 L410.8 339.2 L412.0 340.0 L412.6 339.1 L413.3 338.3 L414.2 337.5 L414.5 337.1 L414.7 335.8 L414.7 335.0 L415.3 334.0 L415.8 333.3 L416.3 332.8 L416.4 331.1 L416.7 330.6 L417.0 329.2 L417.3 328.6 L418.1 327.6 L418.3 326.7 L418.9 326.7 L419.7 327.5 L419.4 328.9 L420.0 329.5 L420.0 330.9 L420.6 331.8 L420.8 332.5 L420.8 333.0 L421.2 333.8 L421.4 334.9 L422.0 335.8 L422.3 337.0 L422.9 337.8 L422.9 339.4 L423.3 340.0 L423.4 339.7 L423.9 337.4 L424.7 337.5 L425.6 336.4 L425.5 334.9 L425.8 334.2 L425.8 333.4 L425.9 332.0 L426.5 331.0 L426.3 330.2 L426.8 329.3 L427.0 328.3 L427.2 327.6 L428.2 326.4 L428.3 325.8 L429.2 325.6 L429.7 324.2 L430.5 323.5 L431.3 323.3 L431.2 324.3 L431.5 325.4 L431.3 326.3 L431.7 327.3 L431.3 328.2 L431.3 329.3 L431.4 330.3 L432.2 331.3 L432.4 332.3 L432.0 333.3 L432.8 332.9 L433.0 331.7 L432.9 330.8 L433.0 329.6 L433.6 329.1 L433.7 328.0 L434.3 327.0 L434.3 326.2 L434.2 325.0 L435.3 324.7 L435.8 323.3 L437.0 322.5 L437.5 323.3 L437.5 324.9 L437.7 326.0 L438.3 326.7 L438.4 325.5 L439.6 325.7 L439.7 324.2 L440.8 323.3 L441.3 324.1 L441.7 325.3 L441.6 325.6 L442.0 326.7 L442.5 327.3 L443.3 327.5 L444.4 326.6 L445.0 326.7 L445.2 327.6 L445.5 328.4 L445.0 329.8 L446.0 330.5 L445.8 331.7 L445.5 333.0 L446.1 333.7 L446.4 334.9 L446.6 335.7 L446.7 336.7 L447.4 337.0 L448.0 337.9 L448.0 339.2 L448.4 340.1 L449.2 340.8 L449.4 340.4 L450.6 339.1 L450.8 338.3 L451.2 338.3 L452.0 336.7 L452.1 337.2 L452.7 338.1 L453.3 339.2 L454.1 340.2 L454.7 340.0 L455.1 338.7 L455.4 337.4 L455.8 336.7 L456.2 337.6 L456.2 338.7 L456.4 339.4 L457.0 340.0 L457.8 339.4 L458.3 340.8 L458.3 339.6 L459.4 339.8 L459.2 338.8 L459.7 337.5 L460.7 337.5 L460.8 335.8 L461.1 337.4 L462.0 337.5 L462.8 338.6 L462.8 339.4 L462.7 340.7 L463.0 341.7 L463.6 343.0 L464.0 344.1 L464.1 345.0 L464.2 345.8 L464.4 346.8 L464.9 346.9 L465.3 348.3 L465.9 349.2 L465.9 349.5 L466.7 350.4 L466.7 351.7 L467.1 352.2 L467.7 353.3 L468.0 354.2 L469.2 353.3 L469.8 351.5 L470.8 351.7 L471.6 351.0 L472.5 350.0 L473.2 348.9 L473.1 348.3 L473.7 347.5 L474.2 347.4 L474.5 345.3 L475.0 345.0 L475.8 344.5 L476.3 344.2 L477.1 345.2 L476.9 345.4 L477.5 346.7 L478.4 346.9 L479.2 347.5 L480.3 348.3 L480.1 347.2 L480.8 346.3 L481.0 345.6 L480.6 344.2 L481.3 343.3 L481.5 342.4 L481.3 341.4 L481.8 340.6 L482.2 339.7 L481.4 338.7 L481.9 337.8 L482.0 336.7 L483.0 335.8 L484.0 336.5 L484.2 337.5 L485.3 336.7 L486.0 335.4 L486.5 335.0 L486.4 334.7 L486.7 333.3 L487.0 332.4 L487.4 331.4 L487.0 330.5 L487.2 329.2 L487.5 328.3 L488.3 327.5 L488.4 325.8 L489.5 325.5 L489.7 325.0 L490.2 323.8 L490.3 323.9 L490.8 322.5 L492.0 323.3 L491.9 322.6 L491.9 321.3 L492.3 320.3 L492.7 319.7 L492.2 318.4 L492.7 317.4 L493.0 316.7 L492.9 315.7 L494.0 314.6 L494.2 314.2 L494.1 312.8 L494.5 312.7 L495.3 311.7 L495.3 311.0 L496.2 310.6 L496.7 309.2 L497.1 307.8 L498.0 307.5 L498.3 308.6 L498.7 309.2 L498.7 310.0 L499.1 310.6 L498.8 311.6 L499.2 312.5"/>
</g>
<!-- frame -->
<g fill="none" stroke="#2b2b2b">
<path d="M47.4 50.65 V423.4" stroke-width="1.1"/>
<path d="M551.65 50.65 V423.4" stroke-width="1.2"/>
<path d="M46.85 51.3 H552.25" stroke-width="1.3"/>
<path d="M46.85 422.7 H552.25" stroke-width="1.4"/>
</g>
<g stroke="#000" stroke-width="1" shape-rendering="crispEdges">
<line x1="173.5" x2="173.5" y1="415.5" y2="423"/>
<line x1="299.5" x2="299.5" y1="415.5" y2="423"/>
<line x1="425.5" x2="425.5" y1="415.5" y2="423"/>
</g>
<!-- title -->
<text x="299.5" y="19.3" font-size="26.2" font-weight="bold" text-anchor="middle">Nominal Trade-weighted Exchange Rates</text>
<g font-size="18.6">
<text x="209.3" y="43.8">1</text>
<text x="224.6" y="43.8" font-size="18.65">January</text>
<text x="296.2" y="43.8" font-size="18.3">2014</text>
<text x="342.7" y="43.8">=</text>
<text x="359.6" y="43.8" font-size="18.3">100</text>
</g>
<!-- axis labels -->
<g font-size="18.3">
<text x="-0.3" y="65.8" font-size="18.67">index</text>
<text x="554.6" y="65.8" font-size="18.67">index</text>
<g font-size="19.3">
<text transform="translate(43.6 119.9) scale(0.91 1)" text-anchor="end">120</text>
<text transform="translate(43.6 181.9) scale(0.91 1)" text-anchor="end">110</text>
<text transform="translate(43.6 243.9) scale(0.91 1)" text-anchor="end">100</text>
<text transform="translate(43.6 305.9) scale(0.91 1)" text-anchor="end">90</text>
<text transform="translate(43.6 367.9) scale(0.91 1)" text-anchor="end">80</text>
<text transform="translate(43.6 429.9) scale(0.91 1)" text-anchor="end">70</text>
<text transform="translate(555.6 119.9) scale(0.91 1)">120</text>
<text transform="translate(555.6 181.9) scale(0.91 1)">110</text>
<text transform="translate(555.6 243.9) scale(0.91 1)">100</text>
<text transform="translate(555.6 305.9) scale(0.91 1)">90</text>
<text transform="translate(555.6 367.9) scale(0.91 1)">80</text>
<text transform="translate(555.6 429.9) scale(0.91 1)">70</text>
</g>
<g text-anchor="middle">
<text transform="translate(109.2 448.6) scale(0.975 1)" font-size="19">2014</text>
<text transform="translate(235.4 448.6) scale(0.975 1)" font-size="19">2015</text>
<text transform="translate(362.2 448.6) scale(0.975 1)" font-size="19">2016</text>
<text transform="translate(487.5 448.6) scale(0.975 1)" font-size="19">2017</text>
</g>
<text x="222.8" y="101.1" font-size="18.55" style="fill:#e0141c">US dollar</text>
<text x="416" y="232" font-size="18.67" style="fill:#f68b33">Japanese yen</text>
<text x="394.5" y="278" font-size="18.8" style="fill:#2bb5c8">Euro</text>
<text x="310.5" y="383.3" font-size="18.95" style="fill:#18258a">Canadian dollar</text>
</g>
<g font-size="15">
<text x="44.60" y="476.3">Sources:</text>
<text x="108.96" y="476.3">BIS;</text>
<text x="141.86" y="476.3">Bloomberg;</text>
<text x="223.03" y="476.3">Board</text>
<text x="267.24" y="476.3">of</text>
<text x="284.31" y="476.3">Governors</text>
<text x="358.21" y="476.3">of</text>
<text x="375.08" y="476.3">the</text>
<text x="399.90" y="476.3">Federal</text>
<text x="454.13" y="476.3">Reserve</text>
<text x="513.95" y="476.3">System</text>
</g>
</svg>
</body></html>
